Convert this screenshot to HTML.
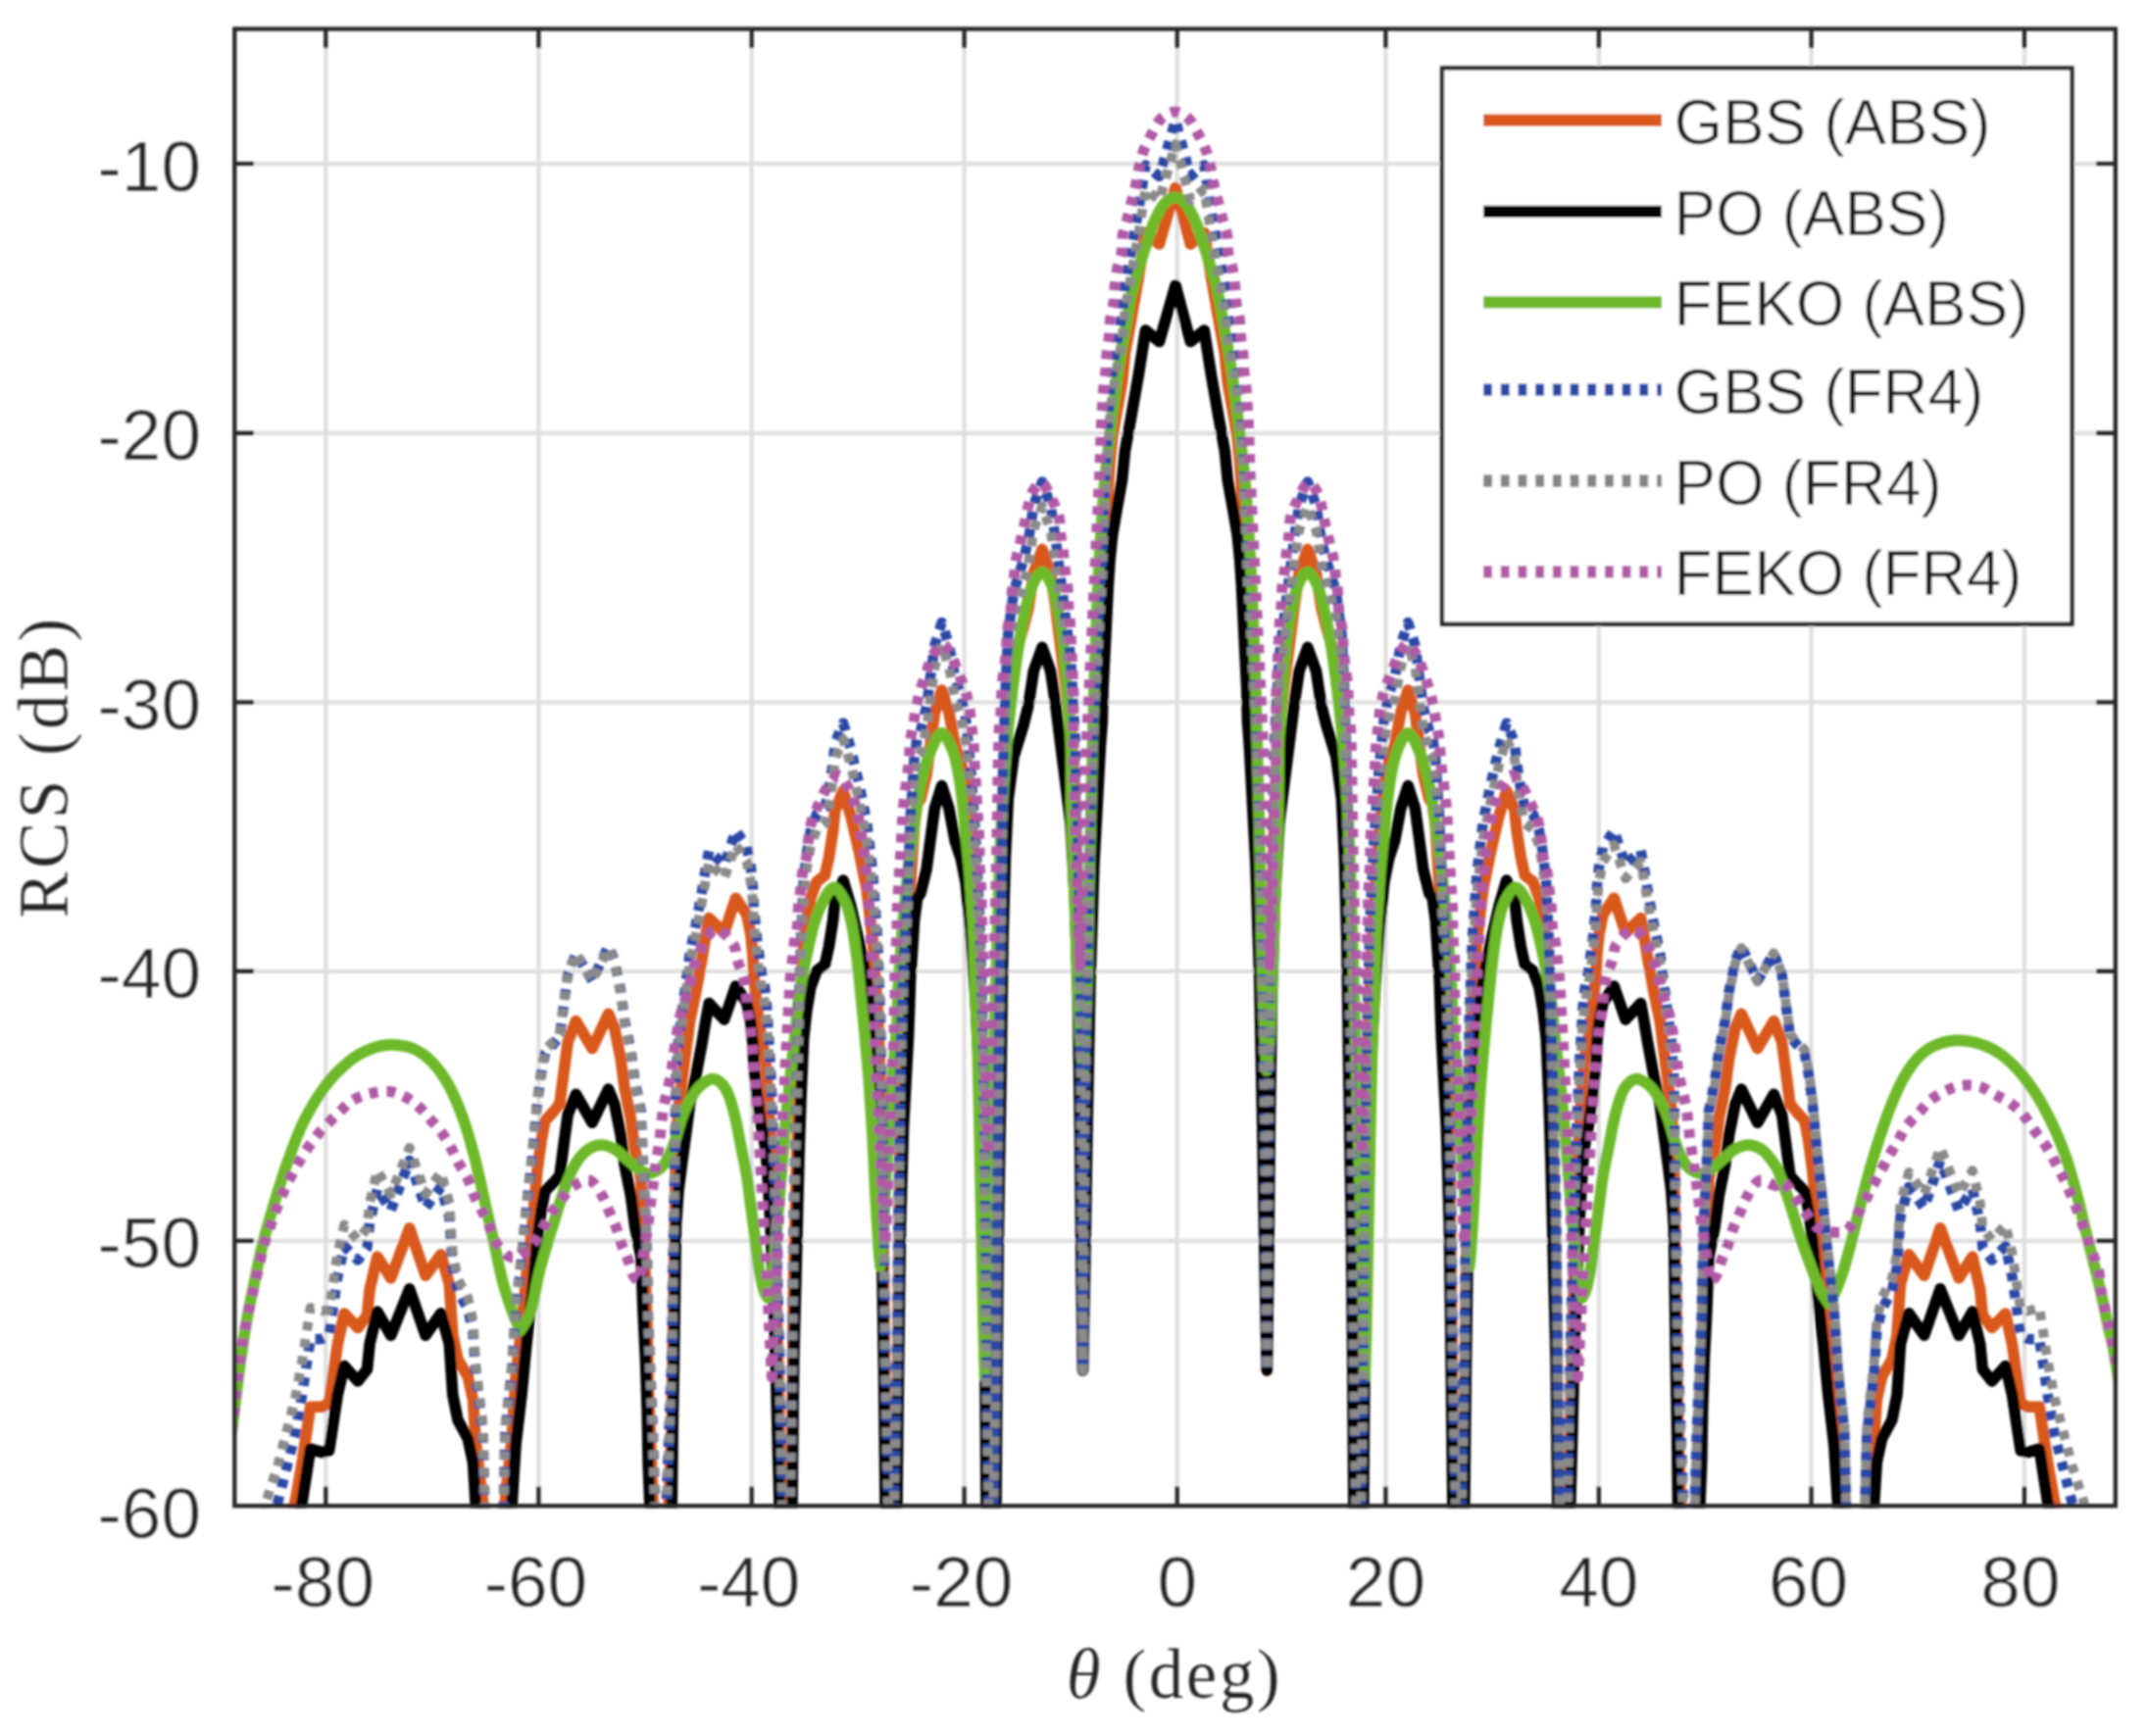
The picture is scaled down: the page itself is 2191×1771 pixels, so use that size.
<!DOCTYPE html>
<html><head><meta charset="utf-8"><title>RCS</title>
<style>html,body{margin:0;padding:0;background:#fff}svg{display:block}.t{font-family:"Liberation Sans",Arial,sans-serif;fill:#262626;stroke:#fff;stroke-width:0.5px}.s{font-family:"Liberation Serif","Times New Roman",serif;fill:#262626;stroke:#fff;stroke-width:0.2px}</style></head><body>
<svg width="2191" height="1771" viewBox="0 0 2191 1771">
<defs><clipPath id="cp"><rect x="237.2" y="27.4" width="1922.8" height="1511.0"/></clipPath><filter id="bl" x="-2%" y="-2%" width="104%" height="104%"><feGaussianBlur stdDeviation="1.0"/></filter></defs>
<rect width="2191" height="1771" fill="#fff"/>
<g filter="url(#bl)">
<g stroke="#dfdfdf" stroke-width="4.3"><line x1="332.3" y1="29.5" x2="332.3" y2="1536.2"/><line x1="549.4" y1="29.5" x2="549.4" y2="1536.2"/><line x1="766.7" y1="29.5" x2="766.7" y2="1536.2"/><line x1="983.6" y1="29.5" x2="983.6" y2="1536.2"/><line x1="1200.7" y1="29.5" x2="1200.7" y2="1536.2"/><line x1="1413.4" y1="29.5" x2="1413.4" y2="1536.2"/><line x1="1630.8" y1="29.5" x2="1630.8" y2="1536.2"/><line x1="1847.6" y1="29.5" x2="1847.6" y2="1536.2"/><line x1="2064.9" y1="29.5" x2="2064.9" y2="1536.2"/><line x1="239.3" y1="167.0" x2="2157.8" y2="167.0"/><line x1="239.3" y1="441.8" x2="2157.8" y2="441.8"/><line x1="239.3" y1="716.4" x2="2157.8" y2="716.4"/><line x1="239.3" y1="990.8" x2="2157.8" y2="990.8"/><line x1="239.3" y1="1265.8" x2="2157.8" y2="1265.8"/></g>
<g clip-path="url(#cp)" fill="none" stroke-linejoin="round" stroke-linecap="butt">
<path d="M255.0 1724.2 L262.0 1683.9 L271.0 1640.4 L283.0 1602.8 L301.0 1532.7 L308.0 1493.0 L313.1 1458.7 L316.6 1435.2 L328.7 1435.1 L335.6 1431.3 L339.1 1407.7 L344.3 1371.5 L351.2 1340.1 L365.0 1354.5 L374.5 1341.7 L377.1 1315.6 L384.9 1282.1 L398.7 1303.8 L417.7 1252.9 L434.1 1301.3 L449.7 1279.9 L458.3 1310.0 L461.8 1361.4 L467.0 1386.8 L477.3 1404.5 L482.5 1428.1 L485.1 1469.2 L492.5 1531.9 L494.6 1611.6 L497.0 1734.4 L503.7 1933.6 L511.0 1732.9 L513.6 1609.6 L515.4 1530.5 L522.3 1465.2 L526.0 1406.1 L532.0 1353.6 L537.0 1301.3 L543.0 1248.7 L548.0 1194.2 L552.2 1163.3 L556.0 1143.4 L565.0 1133.5 L570.9 1126.1 L575.0 1094.6 L579.2 1063.1 L587.5 1041.6 L604.1 1069.6 L620.6 1034.3 L626.9 1049.3 L633.1 1079.8 L637.2 1110.7 L643.5 1141.2 L647.6 1172.0 L653.8 1202.5 L655.9 1256.5 L658.5 1308.2 L660.2 1359.8 L661.1 1411.7 L662.8 1452.9 L666.0 1529.2 L668.0 1597.1 L671.0 1718.8 L673.5 1918.6 L676.0 1718.4 L680.0 1595.0 L682.5 1527.7 L685.3 1450.8 L686.2 1374.7 L687.5 1305.4 L688.5 1236.1 L689.5 1166.9 L692.0 1131.6 L695.3 1105.2 L699.5 1073.5 L703.6 1041.9 L709.8 1012.2 L716.0 978.3 L720.2 952.9 L723.2 936.6 L738.7 951.5 L750.5 916.2 L761.7 932.9 L765.8 953.5 L767.9 974.2 L768.9 995.0 L772.0 1026.1 L776.2 1057.1 L780.3 1077.8 L782.4 1098.6 L786.0 1159.6 L789.0 1229.6 L791.5 1309.6 L793.5 1389.5 L795.0 1442.5 L798.0 1589.5 L802.0 1909.4 L806.0 1589.4 L808.0 1442.8 L808.9 1366.8 L809.7 1297.7 L811.5 1228.4 L813.2 1159.3 L815.0 1089.3 L817.0 1029.3 L819.6 969.2 L822.7 941.0 L826.9 916.1 L833.1 899.4 L841.4 893.1 L845.5 874.5 L849.7 847.4 L851.8 826.7 L860.1 806.7 L868.0 833.2 L876.0 867.7 L884.0 907.2 L890.0 956.9 L895.0 1026.5 L898.0 1106.4 L900.0 1206.2 L901.5 1306.1 L903.0 1439.0 L906.0 1585.9 L909.0 1905.7 L912.0 1585.5 L915.0 1438.3 L916.5 1305.2 L918.5 1155.1 L921.5 1054.9 L926.4 964.6 L927.5 936.3 L928.5 905.1 L930.6 873.9 L932.6 842.7 L935.7 819.7 L938.9 815.3 L945.1 790.0 L949.2 758.6 L953.4 727.3 L960.6 704.0 L967.9 726.6 L974.1 759.7 L980.3 778.2 L985.0 801.8 L990.0 851.7 L995.0 921.6 L999.0 1001.5 L1002.0 1101.4 L1004.5 1251.4 L1006.0 1434.3 L1008.5 1581.3 L1011.0 1901.2 L1013.5 1581.2 L1016.0 1434.1 L1017.0 1301.1 L1018.5 1151.0 L1021.0 1001.0 L1023.0 859.9 L1025.5 773.9 L1028.3 715.8 L1034.0 672.7 L1043.9 640.4 L1049.1 619.5 L1054.3 584.8 L1063.0 560.4 L1071.6 584.6 L1076.8 619.3 L1081.9 660.1 L1087.0 700.1 L1092.0 740.1 L1096.5 820.1 L1099.5 920.1 L1101.5 1050.1 L1103.0 1200.1 L1104.5 1398.0 L1106.5 1200.2 L1109.0 1050.2 L1112.0 900.2 L1116.0 780.2 L1122.5 660.2 L1124.3 636.7 L1125.1 602.1 L1126.9 567.5 L1128.6 533.0 L1130.3 498.4 L1132.0 472.6 L1134.6 446.7 L1139.0 420.8 L1144.5 390.3 L1147.5 360.3 L1153.2 329.0 L1161.3 283.0 L1168.5 237.4 L1182.5 248.9 L1199.0 191.5 L1214.3 248.9 L1228.3 237.4 L1235.5 283.0 L1243.6 329.0 L1249.3 360.3 L1252.3 390.3 L1257.8 420.8 L1262.2 446.7 L1264.8 472.6 L1266.5 498.4 L1268.2 533.0 L1269.9 567.5 L1271.7 602.1 L1272.5 636.7 L1274.3 660.2 L1280.8 780.2 L1284.8 900.2 L1287.8 1050.2 L1290.3 1200.2 L1292.3 1398.0 L1293.8 1200.1 L1295.3 1050.1 L1297.3 920.1 L1300.3 820.1 L1304.8 740.1 L1309.8 700.1 L1314.9 660.1 L1320.0 619.3 L1325.2 584.6 L1333.8 560.4 L1342.5 584.8 L1347.7 619.5 L1352.9 640.4 L1362.8 672.7 L1368.5 715.8 L1371.3 773.9 L1373.8 859.9 L1375.8 1001.0 L1378.3 1151.0 L1379.8 1301.1 L1380.8 1434.1 L1383.3 1581.2 L1385.8 1901.2 L1388.3 1581.3 L1390.8 1434.3 L1392.3 1251.4 L1394.8 1101.4 L1397.8 1001.5 L1401.8 921.6 L1406.8 851.7 L1411.8 801.8 L1416.5 778.2 L1422.7 759.7 L1428.9 726.6 L1436.2 704.0 L1443.4 727.3 L1447.6 758.6 L1451.7 790.0 L1457.9 815.3 L1461.1 819.7 L1464.2 842.7 L1466.2 873.9 L1468.3 905.1 L1469.3 936.3 L1470.4 964.6 L1475.3 1054.9 L1478.3 1155.1 L1480.3 1305.2 L1481.8 1438.3 L1484.8 1585.5 L1487.8 1905.7 L1490.8 1585.9 L1493.8 1439.0 L1495.3 1306.1 L1496.8 1206.2 L1498.8 1106.4 L1501.8 1026.5 L1506.8 956.9 L1512.8 907.2 L1520.8 867.7 L1528.8 833.2 L1536.7 806.7 L1545.0 826.7 L1547.1 847.4 L1551.3 874.5 L1555.4 893.1 L1563.7 899.4 L1569.9 916.1 L1574.1 941.0 L1577.2 969.2 L1579.8 1029.3 L1581.8 1089.3 L1583.6 1159.3 L1585.3 1228.4 L1587.1 1297.7 L1587.9 1366.8 L1588.8 1442.8 L1590.8 1589.4 L1594.8 1909.4 L1598.8 1589.5 L1601.8 1442.5 L1603.3 1389.5 L1605.3 1309.6 L1607.8 1229.6 L1610.8 1159.6 L1614.4 1098.6 L1616.5 1077.8 L1620.6 1057.1 L1624.8 1026.1 L1627.9 995.0 L1628.9 974.2 L1631.0 953.5 L1635.1 932.9 L1646.3 916.2 L1658.1 951.5 L1673.6 936.6 L1676.6 952.9 L1680.8 978.3 L1687.0 1012.2 L1693.2 1041.9 L1697.3 1073.5 L1701.5 1105.2 L1704.8 1131.6 L1707.3 1166.9 L1708.3 1236.1 L1709.3 1305.4 L1710.6 1374.7 L1711.5 1450.8 L1714.3 1527.7 L1716.8 1595.0 L1720.8 1718.4 L1723.3 1918.6 L1725.8 1718.8 L1728.8 1597.1 L1730.8 1529.2 L1734.0 1452.9 L1735.7 1411.7 L1736.6 1359.8 L1738.3 1308.2 L1740.9 1256.5 L1743.0 1202.5 L1749.2 1172.0 L1753.3 1141.2 L1759.6 1110.7 L1763.7 1079.8 L1769.9 1049.3 L1776.2 1034.3 L1792.7 1069.6 L1809.3 1041.6 L1817.6 1063.1 L1821.8 1094.6 L1825.9 1126.1 L1831.8 1133.5 L1840.8 1143.4 L1844.6 1163.3 L1848.8 1194.2 L1853.8 1248.7 L1859.8 1301.3 L1864.8 1353.6 L1870.8 1406.1 L1874.5 1465.2 L1881.4 1530.5 L1883.2 1609.6 L1885.8 1732.9 L1893.1 1933.6 L1899.8 1734.4 L1902.2 1611.6 L1904.3 1531.9 L1911.7 1469.2 L1914.3 1428.1 L1919.5 1404.5 L1929.8 1386.8 L1935.0 1361.4 L1938.5 1310.0 L1947.1 1279.9 L1962.7 1301.3 L1979.1 1252.9 L1998.1 1303.8 L2011.9 1282.1 L2019.7 1315.6 L2022.3 1341.7 L2031.8 1354.5 L2045.6 1340.1 L2052.5 1371.5 L2057.7 1407.7 L2061.2 1431.3 L2068.1 1435.1 L2080.2 1435.2 L2083.7 1458.7 L2088.8 1493.0 L2095.8 1532.7 L2113.8 1602.8 L2125.8 1640.4 L2134.8 1683.9 L2141.8 1724.2" stroke="#d9581c" stroke-width="11.6"/>
<path d="M255.0 1760.0 L262.0 1720.0 L271.0 1677.0 L283.0 1640.0 L301.0 1571.0 L308.0 1533.4 L313.1 1500.6 L316.6 1478.1 L328.7 1481.6 L335.6 1479.9 L339.1 1457.4 L344.3 1422.8 L351.2 1393.5 L365.0 1409.0 L374.5 1396.9 L377.1 1371.0 L384.9 1338.1 L398.7 1362.3 L417.7 1314.8 L434.1 1362.3 L449.7 1339.9 L458.3 1371.0 L461.8 1422.8 L467.0 1448.8 L477.3 1467.8 L482.5 1492.0 L485.1 1533.4 L492.5 1597.0 L494.6 1677.0 L497.0 1800.0 L503.7 2000.0 L511.0 1800.0 L513.6 1677.0 L515.4 1598.0 L522.3 1533.4 L526.0 1474.7 L532.0 1422.8 L537.0 1371.0 L543.0 1319.0 L548.0 1265.0 L552.2 1234.5 L556.0 1215.0 L565.0 1206.0 L570.9 1199.2 L575.0 1168.1 L579.2 1137.0 L587.5 1116.3 L604.1 1145.3 L620.6 1111.1 L626.9 1126.6 L633.1 1157.7 L637.2 1188.9 L643.5 1220.0 L647.6 1251.1 L653.8 1282.2 L655.9 1336.4 L658.5 1388.3 L660.2 1440.1 L661.1 1492.0 L662.8 1533.4 L666.0 1610.0 L668.0 1678.0 L671.0 1800.0 L673.5 2000.0 L676.0 1800.0 L680.0 1677.0 L682.5 1610.0 L685.3 1533.4 L686.2 1457.4 L687.5 1388.3 L688.5 1319.1 L689.5 1250.0 L692.0 1215.0 L695.3 1188.9 L699.5 1157.7 L703.6 1126.6 L709.8 1097.6 L716.0 1064.4 L720.2 1039.5 L723.2 1023.5 L738.7 1040.1 L750.5 1006.0 L761.7 1023.0 L765.8 1043.7 L767.9 1064.4 L768.9 1085.2 L772.0 1116.3 L776.2 1147.4 L780.3 1168.1 L782.4 1188.9 L786.0 1250.0 L789.0 1320.0 L791.5 1400.0 L793.5 1480.0 L795.0 1533.0 L798.0 1680.0 L802.0 2000.0 L806.0 1680.0 L808.0 1533.4 L808.9 1457.4 L809.7 1388.3 L811.5 1319.1 L813.2 1250.0 L815.0 1180.0 L817.0 1120.0 L819.6 1060.0 L822.7 1031.8 L826.9 1006.9 L833.1 990.3 L841.4 984.1 L845.5 965.5 L849.7 938.5 L851.8 917.8 L860.1 898.0 L868.0 925.0 L876.0 960.0 L884.0 1000.0 L890.0 1050.0 L895.0 1120.0 L898.0 1200.0 L900.0 1300.0 L901.5 1400.0 L903.0 1533.0 L906.0 1680.0 L909.0 2000.0 L912.0 1680.0 L915.0 1533.0 L916.5 1400.0 L918.5 1250.0 L921.5 1150.0 L926.4 1060.0 L927.5 1031.8 L928.5 1000.7 L930.6 969.6 L932.6 938.5 L935.7 915.7 L938.9 911.5 L945.1 886.6 L949.2 855.5 L953.4 824.4 L960.6 801.6 L967.9 824.4 L974.1 857.6 L980.3 876.3 L985.0 900.0 L990.0 950.0 L995.0 1020.0 L999.0 1100.0 L1002.0 1200.0 L1004.5 1350.0 L1006.0 1533.0 L1008.5 1680.0 L1011.0 2000.0 L1013.5 1680.0 L1016.0 1533.0 L1017.0 1400.0 L1018.5 1250.0 L1021.0 1100.0 L1023.0 959.0 L1025.5 873.0 L1028.3 815.0 L1034.0 772.0 L1043.9 740.0 L1049.1 719.2 L1054.3 684.6 L1063.0 660.4 L1071.6 684.6 L1076.8 719.2 L1081.9 760.0 L1087.0 800.0 L1092.0 840.0 L1096.5 920.0 L1099.5 1020.0 L1101.5 1150.0 L1103.0 1300.0 L1104.5 1398.0 L1106.5 1300.0 L1109.0 1150.0 L1112.0 1000.0 L1116.0 880.0 L1122.5 760.0 L1124.3 736.5 L1125.1 701.9 L1126.9 667.3 L1128.6 632.8 L1130.3 598.2 L1132.0 572.3 L1134.6 546.4 L1139.0 520.5 L1144.5 490.0 L1147.5 460.0 L1153.2 428.7 L1161.3 382.6 L1168.5 337.0 L1182.5 348.5 L1199.0 291.0 L1214.3 348.5 L1228.3 337.0 L1235.5 382.6 L1243.6 428.7 L1249.3 460.0 L1252.3 490.0 L1257.8 520.5 L1262.2 546.4 L1264.8 572.3 L1266.5 598.2 L1268.2 632.8 L1269.9 667.3 L1271.7 701.9 L1272.5 736.5 L1274.3 760.0 L1280.8 880.0 L1284.8 1000.0 L1287.8 1150.0 L1290.3 1300.0 L1292.3 1398.0 L1293.8 1300.0 L1295.3 1150.0 L1297.3 1020.0 L1300.3 920.0 L1304.8 840.0 L1309.8 800.0 L1314.9 760.0 L1320.0 719.2 L1325.2 684.6 L1333.8 660.4 L1342.5 684.6 L1347.7 719.2 L1352.9 740.0 L1362.8 772.0 L1368.5 815.0 L1371.3 873.0 L1373.8 959.0 L1375.8 1100.0 L1378.3 1250.0 L1379.8 1400.0 L1380.8 1533.0 L1383.3 1680.0 L1385.8 2000.0 L1388.3 1680.0 L1390.8 1533.0 L1392.3 1350.0 L1394.8 1200.0 L1397.8 1100.0 L1401.8 1020.0 L1406.8 950.0 L1411.8 900.0 L1416.5 876.3 L1422.7 857.6 L1428.9 824.4 L1436.2 801.6 L1443.4 824.4 L1447.6 855.5 L1451.7 886.6 L1457.9 911.5 L1461.1 915.7 L1464.2 938.5 L1466.2 969.6 L1468.3 1000.7 L1469.3 1031.8 L1470.4 1060.0 L1475.3 1150.0 L1478.3 1250.0 L1480.3 1400.0 L1481.8 1533.0 L1484.8 1680.0 L1487.8 2000.0 L1490.8 1680.0 L1493.8 1533.0 L1495.3 1400.0 L1496.8 1300.0 L1498.8 1200.0 L1501.8 1120.0 L1506.8 1050.0 L1512.8 1000.0 L1520.8 960.0 L1528.8 925.0 L1536.7 898.0 L1545.0 917.8 L1547.1 938.5 L1551.3 965.5 L1555.4 984.1 L1563.7 990.3 L1569.9 1006.9 L1574.1 1031.8 L1577.2 1060.0 L1579.8 1120.0 L1581.8 1180.0 L1583.6 1250.0 L1585.3 1319.1 L1587.1 1388.3 L1587.9 1457.4 L1588.8 1533.4 L1590.8 1680.0 L1594.8 2000.0 L1598.8 1680.0 L1601.8 1533.0 L1603.3 1480.0 L1605.3 1400.0 L1607.8 1320.0 L1610.8 1250.0 L1614.4 1188.9 L1616.5 1168.1 L1620.6 1147.4 L1624.8 1116.3 L1627.9 1085.2 L1628.9 1064.4 L1631.0 1043.7 L1635.1 1023.0 L1646.3 1006.0 L1658.1 1040.1 L1673.6 1023.5 L1676.6 1039.5 L1680.8 1064.4 L1687.0 1097.6 L1693.2 1126.6 L1697.3 1157.7 L1701.5 1188.9 L1704.8 1215.0 L1707.3 1250.0 L1708.3 1319.1 L1709.3 1388.3 L1710.6 1457.4 L1711.5 1533.4 L1714.3 1610.0 L1716.8 1677.0 L1720.8 1800.0 L1723.3 2000.0 L1725.8 1800.0 L1728.8 1678.0 L1730.8 1610.0 L1734.0 1533.4 L1735.7 1492.0 L1736.6 1440.1 L1738.3 1388.3 L1740.9 1336.4 L1743.0 1282.2 L1749.2 1251.1 L1753.3 1220.0 L1759.6 1188.9 L1763.7 1157.7 L1769.9 1126.6 L1776.2 1111.1 L1792.7 1145.3 L1809.3 1116.3 L1817.6 1137.0 L1821.8 1168.1 L1825.9 1199.2 L1831.8 1206.0 L1840.8 1215.0 L1844.6 1234.5 L1848.8 1265.0 L1853.8 1319.0 L1859.8 1371.0 L1864.8 1422.8 L1870.8 1474.7 L1874.5 1533.4 L1881.4 1598.0 L1883.2 1677.0 L1885.8 1800.0 L1893.1 2000.0 L1899.8 1800.0 L1902.2 1677.0 L1904.3 1597.0 L1911.7 1533.4 L1914.3 1492.0 L1919.5 1467.8 L1929.8 1448.8 L1935.0 1422.8 L1938.5 1371.0 L1947.1 1339.9 L1962.7 1362.3 L1979.1 1314.8 L1998.1 1362.3 L2011.9 1338.1 L2019.7 1371.0 L2022.3 1396.9 L2031.8 1409.0 L2045.6 1393.5 L2052.5 1422.8 L2057.7 1457.4 L2061.2 1479.9 L2068.1 1481.6 L2080.2 1478.1 L2083.7 1500.6 L2088.8 1533.4 L2095.8 1571.0 L2113.8 1640.0 L2125.8 1677.0 L2134.8 1720.0 L2141.8 1760.0" stroke="#050505" stroke-width="11.6"/>
<path d="M236.0 1462.0 C236.5 1458.3 237.3 1451.8 238.8 1440.1 C240.3 1428.4 242.8 1407.0 244.9 1391.7 C247.0 1376.4 249.1 1362.0 251.5 1348.0 C253.9 1334.0 256.8 1321.2 259.5 1308.0 C262.2 1294.8 264.6 1282.6 268.0 1269.0 C271.4 1255.4 275.8 1240.6 280.0 1226.6 C284.2 1212.6 288.4 1199.0 293.4 1185.2 C298.4 1171.4 303.4 1156.8 310.0 1143.7 C316.6 1130.6 324.9 1116.8 332.8 1106.4 C340.8 1096.0 350.1 1087.6 357.7 1081.5 C365.3 1075.4 371.6 1072.6 378.5 1070.0 C385.4 1067.4 391.9 1065.9 399.2 1065.9 C406.4 1065.9 415.1 1067.1 422.0 1070.0 C428.9 1072.9 434.8 1077.4 440.7 1083.5 C446.6 1089.6 452.1 1097.1 457.3 1106.4 C462.5 1115.7 467.3 1127.1 471.8 1139.5 C476.3 1151.9 480.4 1166.5 484.2 1181.0 C488.0 1195.5 491.3 1212.1 494.6 1226.6 C497.9 1241.1 500.9 1254.2 504.0 1268.0 C507.1 1281.8 510.0 1297.5 513.3 1309.6 C516.6 1321.7 520.7 1332.8 523.6 1340.7 C526.5 1348.6 529.7 1354.5 530.9 1357.2 C532.7 1353.8 538.3 1346.9 541.5 1337.0 C544.7 1327.1 547.2 1309.5 550.0 1298.0 C552.8 1286.5 555.8 1277.3 558.5 1268.0 C561.2 1258.7 563.8 1250.8 566.5 1242.0 C569.2 1233.2 571.9 1223.7 575.0 1215.0 C578.1 1206.3 581.6 1196.8 585.4 1190.0 C589.2 1183.2 593.3 1178.0 597.8 1174.3 C602.3 1170.6 607.5 1168.4 612.4 1168.1 C617.2 1167.8 622.4 1169.9 626.9 1172.3 C631.4 1174.7 635.1 1179.1 639.3 1182.6 C643.4 1186.0 648.0 1190.6 651.8 1193.0 C655.6 1195.4 658.0 1197.9 662.1 1197.2 C666.2 1196.5 672.5 1193.8 676.6 1188.9 C680.8 1184.1 683.9 1176.0 687.0 1168.1 C690.1 1160.1 692.5 1148.8 695.3 1141.2 C698.1 1133.6 700.5 1128.0 703.6 1122.5 C706.7 1117.0 709.9 1111.6 714.0 1108.0 C718.1 1104.4 724.0 1100.0 728.5 1100.7 C733.0 1101.4 737.4 1106.0 740.9 1112.1 C744.4 1118.1 746.8 1127.7 749.2 1137.0 C751.6 1146.3 753.4 1157.7 755.5 1168.1 C757.6 1178.5 760.0 1188.8 761.7 1199.2 C763.4 1209.6 764.4 1219.9 765.8 1230.3 C767.2 1240.7 768.6 1251.0 770.0 1261.4 C771.4 1271.8 772.6 1283.5 774.1 1292.6 C775.6 1301.7 777.5 1310.8 779.0 1316.0 C780.5 1321.2 782.3 1322.7 783.0 1324.0 C783.8 1320.0 785.8 1319.0 788.0 1300.0 C790.2 1281.0 793.5 1238.7 796.0 1210.0 C798.5 1181.3 800.5 1154.2 803.0 1128.0 C805.5 1101.8 809.4 1070.4 811.3 1052.6 C813.2 1034.8 813.0 1031.8 814.4 1021.4 C815.8 1011.0 817.9 999.6 819.6 990.3 C821.3 981.0 822.9 973.8 824.8 965.5 C826.7 957.2 828.6 948.2 831.0 940.6 C833.4 933.0 836.0 925.7 839.3 919.8 C842.6 913.9 846.9 905.3 850.7 905.3 C854.5 905.3 859.2 913.9 862.1 919.8 C865.0 925.7 866.6 933.0 868.3 940.6 C870.0 948.2 871.3 957.2 872.5 965.5 C873.7 973.8 874.6 981.0 875.6 990.3 C876.6 999.6 877.7 1011.0 878.7 1021.4 C879.7 1031.8 880.6 1039.5 881.8 1052.6 C883.0 1065.7 884.6 1082.1 886.0 1100.0 C887.4 1117.9 888.8 1140.0 890.0 1160.0 C891.2 1180.0 892.0 1201.7 893.0 1220.0 C894.0 1238.3 895.2 1258.0 896.0 1270.0 C896.8 1282.0 897.7 1288.3 898.0 1292.0 C898.5 1285.0 900.0 1265.3 901.0 1250.0 C902.0 1234.7 902.8 1220.0 904.0 1200.0 C905.2 1180.0 906.7 1150.0 908.0 1130.0 C909.3 1110.0 910.8 1094.2 912.0 1080.0 C913.2 1065.8 914.3 1056.5 915.0 1045.0 C915.7 1033.5 915.5 1021.9 916.0 1011.1 C916.5 1000.3 917.4 990.4 918.1 980.0 C918.8 969.6 919.3 959.3 920.2 948.9 C921.1 938.5 922.3 928.2 923.3 917.8 C924.3 907.4 925.2 897.0 926.4 886.6 C927.6 876.2 929.2 865.9 930.6 855.5 C932.0 845.1 933.0 834.8 934.7 824.4 C936.4 814.0 938.5 803.0 940.9 793.3 C943.3 783.6 945.9 774.0 949.2 766.4 C952.5 758.8 956.8 747.7 960.6 747.7 C964.4 747.7 969.0 758.8 972.0 766.4 C975.0 774.0 976.6 783.6 978.3 793.3 C980.0 803.0 981.2 814.0 982.4 824.4 C983.6 834.8 984.5 845.1 985.5 855.5 C986.5 865.9 987.7 876.2 988.6 886.6 C989.5 897.0 990.0 907.4 990.7 917.8 C991.4 928.2 992.3 938.5 992.8 948.9 C993.3 959.3 993.5 969.6 993.8 980.0 C994.1 990.4 994.3 997.8 994.8 1011.1 C995.3 1024.4 996.2 1036.8 996.9 1060.0 C997.6 1083.2 998.3 1118.3 999.0 1150.0 C999.7 1181.7 1000.3 1216.7 1001.0 1250.0 C1001.7 1283.3 1002.4 1324.2 1003.0 1350.0 C1003.6 1375.8 1004.2 1395.8 1004.5 1405.0 C1004.9 1387.5 1006.1 1334.2 1007.0 1300.0 C1007.9 1265.8 1009.0 1233.3 1010.0 1200.0 C1011.0 1166.7 1012.0 1133.3 1013.0 1100.0 C1014.0 1066.7 1015.0 1033.3 1016.0 1000.0 C1017.0 966.7 1018.0 928.3 1019.0 900.0 C1020.0 871.7 1020.7 853.3 1022.0 830.0 C1023.3 806.7 1025.2 778.5 1026.7 760.0 C1028.2 741.5 1029.6 731.8 1031.0 719.2 C1032.4 706.6 1033.7 696.1 1035.3 684.6 C1036.9 673.1 1038.8 660.2 1040.5 650.1 C1042.2 640.0 1043.7 632.8 1045.7 624.1 C1047.7 615.5 1049.7 605.0 1052.6 598.2 C1055.5 591.4 1059.5 583.5 1063.0 583.5 C1066.5 583.5 1070.6 591.4 1073.3 598.2 C1076.0 605.0 1077.7 615.5 1079.4 624.1 C1081.1 632.8 1082.4 640.0 1083.7 650.1 C1085.0 660.2 1086.1 673.1 1087.1 684.6 C1088.1 696.1 1088.8 706.6 1089.7 719.2 C1090.6 731.8 1091.8 741.5 1092.3 760.0 C1092.8 778.5 1092.5 806.7 1093.0 830.0 C1093.5 853.3 1094.6 875.0 1095.5 900.0 C1096.4 925.0 1097.4 953.3 1098.5 980.0 C1099.6 1006.7 1100.9 1041.3 1102.0 1060.0 C1103.1 1078.7 1104.5 1086.7 1105.0 1092.0 C1105.7 1076.7 1108.0 1032.0 1109.0 1000.0 C1110.0 968.0 1110.2 933.3 1111.0 900.0 C1111.8 866.7 1112.7 833.3 1113.5 800.0 C1114.3 766.7 1115.1 730.0 1116.0 700.0 C1116.9 670.0 1118.0 643.3 1119.0 620.0 C1120.0 596.7 1120.8 580.0 1122.0 560.0 C1123.2 540.0 1124.7 516.3 1126.0 500.0 C1127.3 483.7 1128.8 473.1 1130.0 462.0 C1131.2 450.9 1132.3 442.7 1133.5 433.3 C1134.7 423.9 1135.8 414.8 1137.0 405.6 C1138.2 396.4 1139.3 387.2 1140.7 378.0 C1142.1 368.8 1143.7 359.1 1145.2 350.3 C1146.7 341.5 1148.3 333.4 1149.8 325.0 C1151.3 316.6 1152.5 308.1 1154.4 299.6 C1156.3 291.2 1158.8 282.8 1161.3 274.3 C1163.8 265.9 1166.7 257.0 1169.4 248.9 C1172.1 240.8 1174.3 232.8 1177.4 225.9 C1180.5 219.0 1184.2 211.6 1187.8 207.5 C1191.4 203.4 1195.5 201.2 1199.0 201.2 C1202.5 201.2 1205.6 203.4 1209.0 207.5 C1212.4 211.6 1216.3 219.0 1219.4 225.9 C1222.5 232.8 1224.7 240.8 1227.4 248.9 C1230.1 257.0 1233.0 265.9 1235.5 274.3 C1238.0 282.8 1240.5 291.2 1242.4 299.6 C1244.3 308.1 1245.5 316.6 1247.0 325.0 C1248.5 333.4 1250.1 341.5 1251.6 350.3 C1253.1 359.1 1254.7 368.8 1256.1 378.0 C1257.5 387.2 1258.6 396.4 1259.8 405.6 C1261.0 414.8 1262.1 423.9 1263.3 433.3 C1264.5 442.7 1265.6 450.9 1266.8 462.0 C1268.1 473.1 1269.5 483.7 1270.8 500.0 C1272.1 516.3 1273.6 540.0 1274.8 560.0 C1276.0 580.0 1276.8 596.7 1277.8 620.0 C1278.8 643.3 1279.9 670.0 1280.8 700.0 C1281.7 730.0 1282.5 766.7 1283.3 800.0 C1284.1 833.3 1285.1 866.7 1285.8 900.0 C1286.6 933.3 1286.8 968.0 1287.8 1000.0 C1288.8 1032.0 1291.1 1076.7 1291.8 1092.0 C1292.3 1086.7 1293.7 1078.7 1294.8 1060.0 C1295.9 1041.3 1297.2 1006.7 1298.3 980.0 C1299.4 953.3 1300.4 925.0 1301.3 900.0 C1302.2 875.0 1303.3 853.3 1303.8 830.0 C1304.3 806.7 1304.0 778.5 1304.5 760.0 C1305.1 741.5 1306.2 731.8 1307.1 719.2 C1308.0 706.6 1308.7 696.1 1309.7 684.6 C1310.7 673.1 1311.8 660.2 1313.1 650.1 C1314.4 640.0 1315.7 632.8 1317.4 624.1 C1319.1 615.5 1320.8 605.0 1323.5 598.2 C1326.2 591.4 1330.4 583.5 1333.8 583.5 C1337.3 583.5 1341.3 591.4 1344.2 598.2 C1347.1 605.0 1349.1 615.5 1351.1 624.1 C1353.1 632.8 1354.6 640.0 1356.3 650.1 C1358.0 660.2 1359.9 673.1 1361.5 684.6 C1363.1 696.1 1364.4 706.6 1365.8 719.2 C1367.2 731.8 1368.6 741.5 1370.1 760.0 C1371.6 778.5 1373.5 806.7 1374.8 830.0 C1376.1 853.3 1376.8 871.7 1377.8 900.0 C1378.8 928.3 1379.8 966.7 1380.8 1000.0 C1381.8 1033.3 1382.8 1066.7 1383.8 1100.0 C1384.8 1133.3 1385.8 1166.7 1386.8 1200.0 C1387.8 1233.3 1388.9 1265.8 1389.8 1300.0 C1390.7 1334.2 1391.9 1387.5 1392.3 1405.0 C1392.6 1395.8 1393.2 1375.8 1393.8 1350.0 C1394.4 1324.2 1395.1 1283.3 1395.8 1250.0 C1396.5 1216.7 1397.1 1181.7 1397.8 1150.0 C1398.5 1118.3 1399.2 1083.2 1399.9 1060.0 C1400.6 1036.8 1401.5 1024.4 1402.0 1011.1 C1402.5 997.8 1402.7 990.4 1403.0 980.0 C1403.3 969.6 1403.5 959.3 1404.0 948.9 C1404.5 938.5 1405.4 928.2 1406.1 917.8 C1406.8 907.4 1407.3 897.0 1408.2 886.6 C1409.1 876.2 1410.3 865.9 1411.3 855.5 C1412.3 845.1 1413.2 834.8 1414.4 824.4 C1415.6 814.0 1416.8 803.0 1418.5 793.3 C1420.2 783.6 1421.9 774.0 1424.8 766.4 C1427.8 758.8 1432.4 747.7 1436.2 747.7 C1440.0 747.7 1444.3 758.8 1447.6 766.4 C1450.9 774.0 1453.5 783.6 1455.9 793.3 C1458.3 803.0 1460.4 814.0 1462.1 824.4 C1463.8 834.8 1464.8 845.1 1466.2 855.5 C1467.6 865.9 1469.2 876.2 1470.4 886.6 C1471.6 897.0 1472.5 907.4 1473.5 917.8 C1474.5 928.2 1475.7 938.5 1476.6 948.9 C1477.5 959.3 1478.0 969.6 1478.7 980.0 C1479.4 990.4 1480.3 1000.3 1480.8 1011.1 C1481.3 1021.9 1481.1 1033.5 1481.8 1045.0 C1482.5 1056.5 1483.6 1065.8 1484.8 1080.0 C1486.0 1094.2 1487.5 1110.0 1488.8 1130.0 C1490.1 1150.0 1491.6 1180.0 1492.8 1200.0 C1494.0 1220.0 1494.8 1234.7 1495.8 1250.0 C1496.8 1265.3 1498.3 1285.0 1498.8 1292.0 C1499.1 1288.3 1500.0 1282.0 1500.8 1270.0 C1501.6 1258.0 1502.8 1238.3 1503.8 1220.0 C1504.8 1201.7 1505.6 1180.0 1506.8 1160.0 C1508.0 1140.0 1509.4 1117.9 1510.8 1100.0 C1512.2 1082.1 1513.8 1065.7 1515.0 1052.6 C1516.2 1039.5 1517.1 1031.8 1518.1 1021.4 C1519.1 1011.0 1520.2 999.6 1521.2 990.3 C1522.2 981.0 1523.1 973.8 1524.3 965.5 C1525.5 957.2 1526.8 948.2 1528.5 940.6 C1530.2 933.0 1531.8 925.7 1534.7 919.8 C1537.6 913.9 1542.3 905.3 1546.1 905.3 C1549.9 905.3 1554.2 913.9 1557.5 919.8 C1560.8 925.7 1563.4 933.0 1565.8 940.6 C1568.2 948.2 1570.1 957.2 1572.0 965.5 C1573.9 973.8 1575.5 981.0 1577.2 990.3 C1578.9 999.6 1581.0 1011.0 1582.4 1021.4 C1583.8 1031.8 1583.6 1034.8 1585.5 1052.6 C1587.4 1070.4 1591.3 1101.8 1593.8 1128.0 C1596.4 1154.2 1598.3 1181.3 1600.8 1210.0 C1603.3 1238.7 1606.6 1281.0 1608.8 1300.0 C1611.0 1319.0 1613.0 1320.0 1613.8 1324.0 C1614.5 1322.7 1616.3 1321.2 1617.8 1316.0 C1619.3 1310.8 1621.2 1301.7 1622.7 1292.6 C1624.2 1283.5 1625.4 1271.8 1626.8 1261.4 C1628.2 1251.0 1629.6 1240.7 1631.0 1230.3 C1632.4 1219.9 1633.4 1209.6 1635.1 1199.2 C1636.8 1188.8 1639.2 1178.5 1641.3 1168.1 C1643.4 1157.7 1645.2 1146.3 1647.6 1137.0 C1650.0 1127.7 1652.5 1118.1 1655.9 1112.1 C1659.4 1106.0 1663.8 1101.4 1668.3 1100.7 C1672.8 1100.0 1678.7 1104.4 1682.8 1108.0 C1687.0 1111.6 1690.1 1117.0 1693.2 1122.5 C1696.3 1128.0 1698.7 1133.6 1701.5 1141.2 C1704.3 1148.8 1706.7 1160.1 1709.8 1168.1 C1712.9 1176.0 1716.1 1184.1 1720.2 1188.9 C1724.4 1193.8 1730.6 1196.5 1734.7 1197.2 C1738.8 1197.9 1741.2 1195.4 1745.0 1193.0 C1748.8 1190.6 1753.4 1186.0 1757.5 1182.6 C1761.7 1179.1 1765.4 1174.7 1769.9 1172.3 C1774.4 1169.9 1779.6 1167.8 1784.4 1168.1 C1789.2 1168.4 1794.5 1170.6 1799.0 1174.3 C1803.5 1178.0 1808.7 1186.1 1811.4 1190.0 C1814.1 1193.9 1812.7 1191.5 1815.0 1197.6 C1817.3 1203.7 1822.0 1216.2 1825.4 1226.6 C1828.9 1237.0 1832.2 1249.4 1835.7 1259.8 C1839.2 1270.2 1842.6 1279.6 1846.1 1288.9 C1849.6 1298.2 1853.3 1309.0 1856.5 1315.8 C1859.7 1322.6 1864.0 1327.6 1865.5 1330.0 C1866.8 1327.7 1870.6 1321.5 1873.0 1316.0 C1875.4 1310.5 1877.7 1304.3 1880.0 1297.0 C1882.3 1289.7 1885.0 1279.2 1887.0 1272.0 C1889.0 1264.8 1889.5 1262.2 1891.7 1253.6 C1893.9 1245.0 1897.2 1231.1 1900.0 1220.4 C1902.8 1209.7 1905.2 1200.0 1908.3 1189.3 C1911.4 1178.6 1915.2 1166.5 1918.7 1156.1 C1922.2 1145.7 1925.3 1136.4 1929.1 1127.1 C1932.9 1117.8 1937.0 1108.0 1941.5 1100.1 C1946.0 1092.1 1950.8 1084.9 1956.0 1079.4 C1961.2 1073.9 1966.0 1070.0 1972.6 1067.0 C1979.2 1064.0 1987.1 1061.6 1995.4 1061.4 C2003.7 1061.2 2014.5 1063.2 2022.4 1065.9 C2030.4 1068.6 2036.2 1071.9 2043.1 1077.3 C2050.0 1082.7 2057.0 1089.4 2063.9 1098.1 C2070.8 1106.8 2077.7 1116.4 2084.6 1129.2 C2091.5 1142.0 2099.5 1159.2 2105.3 1174.8 C2111.1 1190.3 2116.0 1209.7 2119.5 1222.5 C2123.0 1235.3 2124.3 1242.8 2126.5 1251.7 C2128.7 1260.6 2130.4 1267.6 2132.5 1275.9 C2134.6 1284.2 2136.9 1293.2 2139.0 1301.8 C2141.1 1310.4 2143.1 1319.1 2145.0 1327.8 C2146.9 1336.5 2148.9 1346.5 2150.5 1353.7 C2152.1 1360.9 2153.5 1365.0 2154.8 1371.0 C2156.1 1377.0 2156.9 1383.2 2158.1 1390.0 C2159.3 1396.8 2161.3 1408.3 2162.0 1412.0" stroke="#6db92c" stroke-width="11.6"/>
<path d="M255.0 1655.2 L262.0 1614.9 L271.0 1571.4 L283.0 1533.8 L301.0 1463.7 L308.0 1424.0 L313.1 1389.7 L316.6 1366.2 L328.7 1366.1 L335.6 1362.3 L339.1 1338.7 L344.3 1302.5 L351.2 1271.1 L365.0 1285.5 L374.5 1272.7 L377.1 1246.6 L384.9 1213.1 L398.7 1234.8 L417.7 1183.9 L434.1 1232.3 L449.7 1210.9 L458.3 1241.0 L461.8 1292.4 L467.0 1317.8 L477.3 1335.5 L482.5 1359.1 L485.1 1400.2 L492.5 1462.9 L494.6 1542.6 L497.0 1665.4 L503.7 1864.6 L511.0 1663.9 L513.6 1540.6 L515.4 1461.5 L522.3 1396.2 L526.0 1337.1 L532.0 1284.6 L537.0 1232.3 L543.0 1179.7 L548.0 1125.2 L552.2 1094.3 L556.0 1074.4 L565.0 1064.5 L570.9 1057.1 L575.0 1025.6 L579.2 994.1 L587.5 972.6 L604.1 1000.6 L620.6 965.3 L626.9 980.3 L633.1 1010.8 L637.2 1041.7 L643.5 1072.2 L647.6 1103.0 L653.8 1133.5 L655.9 1187.5 L658.5 1239.2 L660.2 1290.8 L661.1 1342.7 L662.8 1383.9 L666.0 1460.2 L668.0 1528.1 L671.0 1649.8 L673.5 1849.6 L676.0 1649.4 L680.0 1526.0 L682.5 1458.7 L685.3 1381.8 L686.2 1305.7 L687.5 1236.4 L688.5 1167.1 L689.5 1097.9 L692.0 1062.6 L695.3 1036.2 L699.5 1004.5 L703.6 972.9 L709.8 943.2 L716.0 909.3 L720.2 883.9 L723.2 867.6 L738.7 882.5 L750.5 847.2 L761.7 863.9 L765.8 884.5 L767.9 905.2 L768.9 926.0 L772.0 957.1 L776.2 988.1 L780.3 1008.8 L782.4 1029.6 L786.0 1090.6 L789.0 1160.6 L791.5 1240.6 L793.5 1320.5 L795.0 1373.5 L798.0 1520.5 L802.0 1840.4 L806.0 1520.4 L808.0 1373.8 L808.9 1297.8 L809.7 1228.7 L811.5 1159.4 L813.2 1090.3 L815.0 1020.3 L817.0 960.3 L819.6 900.2 L822.7 872.0 L826.9 847.1 L833.1 830.4 L841.4 824.1 L845.5 805.5 L849.7 778.4 L851.8 757.7 L860.1 737.7 L868.0 764.2 L876.0 798.7 L884.0 838.2 L890.0 887.9 L895.0 957.5 L898.0 1037.4 L900.0 1137.2 L901.5 1237.1 L903.0 1370.0 L906.0 1516.9 L909.0 1836.7 L912.0 1516.5 L915.0 1369.3 L916.5 1236.2 L918.5 1086.1 L921.5 985.9 L926.4 895.6 L927.5 867.3 L928.5 836.1 L930.6 804.9 L932.6 773.7 L935.7 750.7 L938.9 746.3 L945.1 721.0 L949.2 689.6 L953.4 658.3 L960.6 635.0 L967.9 657.6 L974.1 690.7 L980.3 709.2 L985.0 732.8 L990.0 782.7 L995.0 852.6 L999.0 932.5 L1002.0 1032.4 L1004.5 1182.4 L1006.0 1365.3 L1008.5 1512.3 L1011.0 1832.2 L1013.5 1512.2 L1016.0 1365.1 L1017.0 1232.1 L1018.5 1082.0 L1021.0 932.0 L1023.0 790.9 L1025.5 704.9 L1028.3 646.8 L1034.0 603.7 L1043.9 571.4 L1049.1 550.5 L1054.3 515.8 L1063.0 491.4 L1071.6 515.6 L1076.8 550.3 L1081.9 591.1 L1087.0 631.1 L1092.0 671.1 L1096.5 751.1 L1099.5 851.1 L1101.5 981.1 L1103.0 1131.1 L1104.5 1398.0 L1106.5 1131.2 L1109.0 981.2 L1112.0 831.2 L1116.0 711.2 L1122.5 591.2 L1124.3 567.7 L1125.1 533.1 L1126.9 498.5 L1128.6 464.0 L1130.3 429.4 L1132.0 403.6 L1134.6 377.7 L1139.0 351.8 L1144.5 321.3 L1147.5 291.3 L1153.2 260.0 L1161.3 214.0 L1168.5 168.4 L1182.5 179.9 L1199.0 122.5 L1214.3 179.9 L1228.3 168.4 L1235.5 214.0 L1243.6 260.0 L1249.3 291.3 L1252.3 321.3 L1257.8 351.8 L1262.2 377.7 L1264.8 403.6 L1266.5 429.4 L1268.2 464.0 L1269.9 498.5 L1271.7 533.1 L1272.5 567.7 L1274.3 591.2 L1280.8 711.2 L1284.8 831.2 L1287.8 981.2 L1290.3 1131.2 L1292.3 1398.0 L1293.8 1131.1 L1295.3 981.1 L1297.3 851.1 L1300.3 751.1 L1304.8 671.1 L1309.8 631.1 L1314.9 591.1 L1320.0 550.3 L1325.2 515.6 L1333.8 491.4 L1342.5 515.8 L1347.7 550.5 L1352.9 571.4 L1362.8 603.7 L1368.5 646.8 L1371.3 704.9 L1373.8 790.9 L1375.8 932.0 L1378.3 1082.0 L1379.8 1232.1 L1380.8 1365.1 L1383.3 1512.2 L1385.8 1832.2 L1388.3 1512.3 L1390.8 1365.3 L1392.3 1182.4 L1394.8 1032.4 L1397.8 932.5 L1401.8 852.6 L1406.8 782.7 L1411.8 732.8 L1416.5 709.2 L1422.7 690.7 L1428.9 657.6 L1436.2 635.0 L1443.4 658.3 L1447.6 689.6 L1451.7 721.0 L1457.9 746.3 L1461.1 750.7 L1464.2 773.7 L1466.2 804.9 L1468.3 836.1 L1469.3 867.3 L1470.4 895.6 L1475.3 985.9 L1478.3 1086.1 L1480.3 1236.2 L1481.8 1369.3 L1484.8 1516.5 L1487.8 1836.7 L1490.8 1516.9 L1493.8 1370.0 L1495.3 1237.1 L1496.8 1137.2 L1498.8 1037.4 L1501.8 957.5 L1506.8 887.9 L1512.8 838.2 L1520.8 798.7 L1528.8 764.2 L1536.7 737.7 L1545.0 757.7 L1547.1 778.4 L1551.3 805.5 L1555.4 824.1 L1563.7 830.4 L1569.9 847.1 L1574.1 872.0 L1577.2 900.2 L1579.8 960.3 L1581.8 1020.3 L1583.6 1090.3 L1585.3 1159.4 L1587.1 1228.7 L1587.9 1297.8 L1588.8 1373.8 L1590.8 1520.4 L1594.8 1840.4 L1598.8 1520.5 L1601.8 1373.5 L1603.3 1320.5 L1605.3 1240.6 L1607.8 1160.6 L1610.8 1090.6 L1614.4 1029.6 L1616.5 1008.8 L1620.6 988.1 L1624.8 957.1 L1627.9 926.0 L1628.9 905.2 L1631.0 884.5 L1635.1 863.9 L1646.3 847.2 L1658.1 882.5 L1673.6 867.6 L1676.6 883.9 L1680.8 909.3 L1687.0 943.2 L1693.2 972.9 L1697.3 1004.5 L1701.5 1036.2 L1704.8 1062.6 L1707.3 1097.9 L1708.3 1167.1 L1709.3 1236.4 L1710.6 1305.7 L1711.5 1381.8 L1714.3 1458.7 L1716.8 1526.0 L1720.8 1649.4 L1723.3 1849.6 L1725.8 1649.8 L1728.8 1528.1 L1730.8 1460.2 L1734.0 1383.9 L1735.7 1342.7 L1736.6 1290.8 L1738.3 1239.2 L1740.9 1187.5 L1743.0 1133.5 L1749.2 1103.0 L1753.3 1072.2 L1759.6 1041.7 L1763.7 1010.8 L1769.9 980.3 L1776.2 965.3 L1792.7 1000.6 L1809.3 972.6 L1817.6 994.1 L1821.8 1025.6 L1825.9 1057.1 L1831.8 1064.5 L1840.8 1074.4 L1844.6 1094.3 L1848.8 1125.2 L1853.8 1179.7 L1859.8 1232.3 L1864.8 1284.6 L1870.8 1337.1 L1874.5 1396.2 L1881.4 1461.5 L1883.2 1540.6 L1885.8 1663.9 L1893.1 1864.6 L1899.8 1665.4 L1902.2 1542.6 L1904.3 1462.9 L1911.7 1400.2 L1914.3 1359.1 L1919.5 1335.5 L1929.8 1317.8 L1935.0 1292.4 L1938.5 1241.0 L1947.1 1210.9 L1962.7 1232.3 L1979.1 1183.9 L1998.1 1234.8 L2011.9 1213.1 L2019.7 1246.6 L2022.3 1272.7 L2031.8 1285.5 L2045.6 1271.1 L2052.5 1302.5 L2057.7 1338.7 L2061.2 1362.3 L2068.1 1366.1 L2080.2 1366.2 L2083.7 1389.7 L2088.8 1424.0 L2095.8 1463.7 L2113.8 1533.8 L2125.8 1571.4 L2134.8 1614.9 L2141.8 1655.2" stroke="#2a4aa6" stroke-width="10.5" stroke-dasharray="8.9 8.8"/>
<path d="M255.0 1616.0 L262.0 1576.0 L271.0 1533.0 L283.0 1496.0 L301.0 1427.0 L308.0 1389.4 L313.1 1356.6 L316.6 1334.1 L328.7 1337.6 L335.6 1335.9 L339.1 1313.4 L344.3 1278.8 L351.2 1249.5 L365.0 1265.0 L374.5 1252.9 L377.1 1227.0 L384.9 1194.1 L398.7 1218.3 L417.7 1170.8 L434.1 1218.3 L449.7 1195.9 L458.3 1227.0 L461.8 1278.8 L467.0 1304.8 L477.3 1323.8 L482.5 1348.0 L485.1 1389.4 L492.5 1453.0 L494.6 1533.0 L497.0 1656.0 L503.7 1856.0 L511.0 1656.0 L513.6 1533.0 L515.4 1454.0 L522.3 1389.4 L526.0 1330.7 L532.0 1278.8 L537.0 1227.0 L543.0 1175.0 L548.0 1121.0 L552.2 1090.5 L556.0 1071.0 L565.0 1062.0 L570.9 1055.2 L575.0 1024.1 L579.2 993.0 L587.5 972.3 L604.1 1001.3 L620.6 967.1 L626.9 982.6 L633.1 1013.7 L637.2 1044.9 L643.5 1076.0 L647.6 1107.1 L653.8 1138.2 L655.9 1192.4 L658.5 1244.3 L660.2 1296.1 L661.1 1348.0 L662.8 1389.4 L666.0 1466.0 L668.0 1534.0 L671.0 1656.0 L673.5 1856.0 L676.0 1656.0 L680.0 1533.0 L682.5 1466.0 L685.3 1389.4 L686.2 1313.4 L687.5 1244.3 L688.5 1175.1 L689.5 1106.0 L692.0 1071.0 L695.3 1044.9 L699.5 1013.7 L703.6 982.6 L709.8 953.6 L716.0 920.4 L720.2 895.5 L723.2 879.5 L738.7 896.1 L750.5 862.0 L761.7 879.0 L765.8 899.7 L767.9 920.4 L768.9 941.2 L772.0 972.3 L776.2 1003.4 L780.3 1024.1 L782.4 1044.9 L786.0 1106.0 L789.0 1176.0 L791.5 1256.0 L793.5 1336.0 L795.0 1389.0 L798.0 1536.0 L802.0 1856.0 L806.0 1536.0 L808.0 1389.4 L808.9 1313.4 L809.7 1244.3 L811.5 1175.1 L813.2 1106.0 L815.0 1036.0 L817.0 976.0 L819.6 916.0 L822.7 887.8 L826.9 862.9 L833.1 846.3 L841.4 840.1 L845.5 821.5 L849.7 794.5 L851.8 773.8 L860.1 754.0 L868.0 781.0 L876.0 816.0 L884.0 856.0 L890.0 906.0 L895.0 976.0 L898.0 1056.0 L900.0 1156.0 L901.5 1256.0 L903.0 1389.0 L906.0 1536.0 L909.0 1856.0 L912.0 1536.0 L915.0 1389.0 L916.5 1256.0 L918.5 1106.0 L921.5 1006.0 L926.4 916.0 L927.5 887.8 L928.5 856.7 L930.6 825.6 L932.6 794.5 L935.7 771.7 L938.9 767.5 L945.1 742.6 L949.2 711.5 L953.4 680.4 L960.6 657.6 L967.9 680.4 L974.1 713.6 L980.3 732.3 L985.0 756.0 L990.0 806.0 L995.0 876.0 L999.0 956.0 L1002.0 1056.0 L1004.5 1206.0 L1006.0 1389.0 L1008.5 1536.0 L1011.0 1856.0 L1013.5 1536.0 L1016.0 1389.0 L1017.0 1256.0 L1018.5 1106.0 L1021.0 956.0 L1023.0 815.0 L1025.5 729.0 L1028.3 671.0 L1034.0 628.0 L1043.9 596.0 L1049.1 575.2 L1054.3 540.6 L1063.0 516.4 L1071.6 540.6 L1076.8 575.2 L1081.9 616.0 L1087.0 656.0 L1092.0 696.0 L1096.5 776.0 L1099.5 876.0 L1101.5 1006.0 L1103.0 1156.0 L1104.5 1398.0 L1106.5 1156.0 L1109.0 1006.0 L1112.0 856.0 L1116.0 736.0 L1122.5 616.0 L1124.3 592.5 L1125.1 557.9 L1126.9 523.3 L1128.6 488.8 L1130.3 454.2 L1132.0 428.3 L1134.6 402.4 L1139.0 376.5 L1144.5 346.0 L1147.5 316.0 L1153.2 284.7 L1161.3 238.6 L1168.5 193.0 L1182.5 204.5 L1199.0 147.0 L1214.3 204.5 L1228.3 193.0 L1235.5 238.6 L1243.6 284.7 L1249.3 316.0 L1252.3 346.0 L1257.8 376.5 L1262.2 402.4 L1264.8 428.3 L1266.5 454.2 L1268.2 488.8 L1269.9 523.3 L1271.7 557.9 L1272.5 592.5 L1274.3 616.0 L1280.8 736.0 L1284.8 856.0 L1287.8 1006.0 L1290.3 1156.0 L1292.3 1398.0 L1293.8 1156.0 L1295.3 1006.0 L1297.3 876.0 L1300.3 776.0 L1304.8 696.0 L1309.8 656.0 L1314.9 616.0 L1320.0 575.2 L1325.2 540.6 L1333.8 516.4 L1342.5 540.6 L1347.7 575.2 L1352.9 596.0 L1362.8 628.0 L1368.5 671.0 L1371.3 729.0 L1373.8 815.0 L1375.8 956.0 L1378.3 1106.0 L1379.8 1256.0 L1380.8 1389.0 L1383.3 1536.0 L1385.8 1856.0 L1388.3 1536.0 L1390.8 1389.0 L1392.3 1206.0 L1394.8 1056.0 L1397.8 956.0 L1401.8 876.0 L1406.8 806.0 L1411.8 756.0 L1416.5 732.3 L1422.7 713.6 L1428.9 680.4 L1436.2 657.6 L1443.4 680.4 L1447.6 711.5 L1451.7 742.6 L1457.9 767.5 L1461.1 771.7 L1464.2 794.5 L1466.2 825.6 L1468.3 856.7 L1469.3 887.8 L1470.4 916.0 L1475.3 1006.0 L1478.3 1106.0 L1480.3 1256.0 L1481.8 1389.0 L1484.8 1536.0 L1487.8 1856.0 L1490.8 1536.0 L1493.8 1389.0 L1495.3 1256.0 L1496.8 1156.0 L1498.8 1056.0 L1501.8 976.0 L1506.8 906.0 L1512.8 856.0 L1520.8 816.0 L1528.8 781.0 L1536.7 754.0 L1545.0 773.8 L1547.1 794.5 L1551.3 821.5 L1555.4 840.1 L1563.7 846.3 L1569.9 862.9 L1574.1 887.8 L1577.2 916.0 L1579.8 976.0 L1581.8 1036.0 L1583.6 1106.0 L1585.3 1175.1 L1587.1 1244.3 L1587.9 1313.4 L1588.8 1389.4 L1590.8 1536.0 L1594.8 1856.0 L1598.8 1536.0 L1601.8 1389.0 L1603.3 1336.0 L1605.3 1256.0 L1607.8 1176.0 L1610.8 1106.0 L1614.4 1044.9 L1616.5 1024.1 L1620.6 1003.4 L1624.8 972.3 L1627.9 941.2 L1628.9 920.4 L1631.0 899.7 L1635.1 879.0 L1646.3 862.0 L1658.1 896.1 L1673.6 879.5 L1676.6 895.5 L1680.8 920.4 L1687.0 953.6 L1693.2 982.6 L1697.3 1013.7 L1701.5 1044.9 L1704.8 1071.0 L1707.3 1106.0 L1708.3 1175.1 L1709.3 1244.3 L1710.6 1313.4 L1711.5 1389.4 L1714.3 1466.0 L1716.8 1533.0 L1720.8 1656.0 L1723.3 1856.0 L1725.8 1656.0 L1728.8 1534.0 L1730.8 1466.0 L1734.0 1389.4 L1735.7 1348.0 L1736.6 1296.1 L1738.3 1244.3 L1740.9 1192.4 L1743.0 1138.2 L1749.2 1107.1 L1753.3 1076.0 L1759.6 1044.9 L1763.7 1013.7 L1769.9 982.6 L1776.2 967.1 L1792.7 1001.3 L1809.3 972.3 L1817.6 993.0 L1821.8 1024.1 L1825.9 1055.2 L1831.8 1062.0 L1840.8 1071.0 L1844.6 1090.5 L1848.8 1121.0 L1853.8 1175.0 L1859.8 1227.0 L1864.8 1278.8 L1870.8 1330.7 L1874.5 1389.4 L1881.4 1454.0 L1883.2 1533.0 L1885.8 1656.0 L1893.1 1856.0 L1899.8 1656.0 L1902.2 1533.0 L1904.3 1453.0 L1911.7 1389.4 L1914.3 1348.0 L1919.5 1323.8 L1929.8 1304.8 L1935.0 1278.8 L1938.5 1227.0 L1947.1 1195.9 L1962.7 1218.3 L1979.1 1170.8 L1998.1 1218.3 L2011.9 1194.1 L2019.7 1227.0 L2022.3 1252.9 L2031.8 1265.0 L2045.6 1249.5 L2052.5 1278.8 L2057.7 1313.4 L2061.2 1335.9 L2068.1 1337.6 L2080.2 1334.1 L2083.7 1356.6 L2088.8 1389.4 L2095.8 1427.0 L2113.8 1496.0 L2125.8 1533.0 L2134.8 1576.0 L2141.8 1616.0" stroke="#8a8a8a" stroke-width="9.8" stroke-dasharray="8.9 8.8"/>
<path d="M236.0 1462.0 C236.5 1458.3 237.4 1452.3 238.8 1440.0 C240.2 1427.7 242.5 1403.8 244.7 1388.0 C246.9 1372.2 249.3 1358.8 252.0 1345.0 C254.7 1331.2 258.3 1316.7 261.0 1305.0 C263.7 1293.3 265.7 1283.6 268.0 1275.0 C270.3 1266.4 271.6 1262.7 274.8 1253.6 C278.0 1244.5 282.4 1231.5 287.2 1220.4 C292.0 1209.3 297.8 1197.6 303.8 1187.2 C309.9 1176.8 316.2 1167.2 323.5 1158.2 C330.8 1149.2 341.2 1139.3 347.4 1133.3 C353.6 1127.2 355.8 1124.8 360.8 1121.9 C365.8 1119.0 371.3 1117.1 377.4 1115.7 C383.4 1114.3 391.2 1113.1 397.1 1113.6 C403.0 1114.1 407.9 1116.4 412.7 1118.8 C417.5 1121.2 421.9 1124.3 426.2 1128.1 C430.5 1131.9 434.5 1136.9 438.6 1141.6 C442.7 1146.3 447.4 1151.1 451.0 1156.1 C454.6 1161.1 457.6 1166.7 460.4 1171.7 C463.2 1176.7 464.8 1181.2 467.6 1186.2 C470.4 1191.2 474.4 1196.4 477.0 1201.8 C479.6 1207.2 480.8 1212.9 483.2 1218.4 C485.6 1223.9 488.9 1229.7 491.5 1234.9 C494.1 1240.1 496.4 1244.3 498.7 1249.5 C500.9 1254.7 501.9 1260.8 505.0 1266.0 C508.1 1271.2 514.1 1277.8 517.4 1280.6 C520.7 1283.4 522.6 1283.0 525.0 1283.0 C527.4 1283.0 528.8 1283.1 532.0 1280.6 C535.2 1278.1 540.6 1272.8 544.4 1268.0 C548.2 1263.2 551.6 1256.7 554.7 1251.5 C557.8 1246.3 559.9 1241.8 563.0 1237.0 C566.1 1232.2 569.7 1227.1 573.4 1222.5 C577.1 1217.9 580.6 1212.6 585.4 1209.6 C590.2 1206.6 597.2 1202.7 602.0 1204.4 C606.8 1206.1 611.1 1214.6 614.4 1220.0 C617.7 1225.4 619.3 1231.1 621.7 1236.6 C624.1 1242.1 626.8 1247.6 628.9 1253.1 C631.0 1258.6 632.2 1264.5 634.1 1269.7 C636.0 1275.0 638.4 1279.2 640.4 1284.6 C642.4 1289.9 644.4 1298.1 646.4 1301.8 C648.4 1305.5 651.5 1306.1 652.5 1307.0 C653.1 1303.3 654.6 1293.2 655.9 1284.6 C657.2 1276.0 658.9 1265.1 660.2 1255.2 C661.6 1245.3 662.7 1235.0 664.0 1225.0 C665.3 1215.0 666.6 1204.8 668.0 1195.0 C669.4 1185.2 671.4 1173.9 672.5 1166.0 C673.6 1158.1 673.9 1153.3 674.6 1147.4 C675.3 1141.5 675.6 1136.7 676.6 1130.8 C677.6 1124.9 679.4 1118.3 680.8 1112.1 C682.2 1105.9 683.9 1099.4 684.9 1093.5 C685.9 1087.6 685.8 1085.1 687.0 1076.9 C688.2 1068.7 690.6 1052.5 692.1 1044.3 C693.6 1036.1 694.5 1033.6 696.2 1027.7 C697.9 1021.8 700.7 1015.2 702.4 1009.0 C704.1 1002.8 704.9 996.2 706.6 990.3 C708.3 984.4 710.7 978.9 712.8 973.7 C714.9 968.5 715.9 963.5 719.0 959.2 C722.1 954.9 726.6 947.1 731.5 947.8 C736.4 948.5 744.6 958.0 748.1 963.4 C751.6 968.8 750.5 974.5 752.2 980.0 C753.9 985.5 756.9 990.7 758.4 996.6 C759.9 1002.5 760.8 1009.3 761.5 1015.2 C762.2 1021.1 761.9 1025.9 762.6 1031.8 C763.3 1037.7 764.5 1039.1 765.7 1050.5 C766.9 1061.9 768.6 1081.8 770.0 1100.0 C771.4 1118.2 772.7 1138.3 774.0 1160.0 C775.3 1181.7 776.7 1206.7 778.0 1230.0 C779.3 1253.3 780.8 1278.3 782.0 1300.0 C783.2 1321.7 784.1 1342.5 785.0 1360.0 C785.9 1377.5 786.9 1397.5 787.3 1405.0 C787.8 1395.8 789.0 1370.8 790.0 1350.0 C791.0 1329.2 792.0 1305.0 793.0 1280.0 C794.0 1255.0 795.0 1225.0 796.0 1200.0 C797.0 1175.0 797.8 1154.6 799.0 1130.0 C800.2 1105.4 802.1 1068.6 803.0 1052.6 C803.9 1036.6 803.8 1040.1 804.1 1033.9 C804.5 1027.7 804.8 1021.1 805.1 1015.2 C805.4 1009.3 805.6 1004.5 806.1 998.6 C806.6 992.7 807.5 986.2 808.2 980.0 C808.9 973.8 809.4 967.2 810.3 961.3 C811.2 955.4 812.7 950.6 813.4 944.7 C814.1 938.8 813.9 931.9 814.4 926.0 C814.9 920.1 815.8 915.4 816.5 909.5 C817.2 903.6 817.6 896.7 818.6 890.8 C819.6 884.9 821.7 880.1 822.7 874.2 C823.7 868.3 823.9 861.5 824.8 855.5 C825.7 849.5 826.2 843.8 827.9 837.9 C829.6 832.0 832.6 826.0 835.2 820.3 C837.8 814.6 840.0 808.6 843.5 803.7 C847.0 798.9 851.8 790.2 855.9 791.2 C860.0 792.2 865.2 803.7 868.3 809.9 C871.4 816.1 873.0 822.4 874.6 828.6 C876.2 834.8 876.7 841.3 877.7 847.2 C878.7 853.1 879.9 857.9 880.8 863.8 C881.7 869.7 882.2 876.6 882.9 882.5 C883.6 888.4 884.4 893.2 884.9 899.1 C885.4 905.0 885.6 911.9 886.0 917.8 C886.4 923.7 886.7 928.4 887.0 934.3 C887.3 940.2 887.6 947.1 888.0 953.0 C888.4 958.9 888.8 963.7 889.1 969.6 C889.5 975.5 889.9 982.4 890.1 988.3 C890.3 994.2 889.9 999.0 890.1 1004.9 C890.3 1010.8 890.9 1017.3 891.2 1023.5 C891.6 1029.7 892.0 1036.1 892.2 1042.2 C892.4 1048.3 891.7 1047.0 892.2 1060.0 C892.7 1073.0 894.0 1100.0 895.0 1120.0 C896.0 1140.0 897.0 1160.0 898.0 1180.0 C899.0 1200.0 900.2 1225.2 901.0 1240.0 C901.8 1254.8 902.7 1264.2 903.0 1269.0 C903.3 1262.5 904.3 1246.5 905.0 1230.0 C905.7 1213.5 906.3 1190.0 907.0 1170.0 C907.7 1150.0 908.2 1128.3 909.0 1110.0 C909.8 1091.7 911.4 1072.0 911.9 1060.0 C912.4 1048.0 911.7 1044.8 911.9 1038.0 C912.1 1031.2 912.7 1025.3 912.9 1019.4 C913.1 1013.5 912.9 1008.7 912.9 1002.8 C912.9 996.9 912.7 990.0 912.9 984.1 C913.1 978.2 913.6 973.4 914.0 967.5 C914.4 961.6 914.8 954.8 915.0 948.9 C915.2 943.0 914.8 938.2 915.0 932.3 C915.2 926.4 915.6 919.5 916.0 913.6 C916.4 907.7 916.8 902.9 917.1 897.0 C917.5 891.1 917.8 884.2 918.1 878.3 C918.5 872.4 918.9 867.7 919.2 861.8 C919.6 855.9 919.9 849.0 920.2 843.1 C920.5 837.2 920.7 832.4 921.2 826.5 C921.7 820.6 922.6 813.7 923.3 807.8 C924.0 801.9 924.7 796.7 925.4 791.2 C926.1 785.7 927.0 780.6 927.5 774.7 C928.0 768.8 927.8 761.9 928.5 756.0 C929.2 750.1 930.6 745.3 931.6 739.4 C932.6 733.5 933.5 726.6 934.7 720.7 C935.9 714.8 937.2 710.1 938.9 704.1 C940.6 698.1 942.8 691.0 945.0 685.0 C947.2 679.0 949.3 672.7 952.0 668.0 C954.7 663.3 958.0 657.0 961.0 657.0 C964.0 657.0 967.3 663.3 970.0 668.0 C972.7 672.7 974.6 679.0 977.0 685.0 C979.4 691.0 982.6 698.1 984.5 704.1 C986.4 710.1 987.6 714.8 988.6 720.7 C989.6 726.6 990.0 733.5 990.7 739.4 C991.4 745.3 992.3 750.1 992.8 756.0 C993.3 761.9 993.5 768.8 993.8 774.7 C994.1 780.6 994.4 785.7 994.8 791.2 C995.1 796.7 995.5 801.9 995.9 807.8 C996.2 813.7 996.5 820.6 996.9 826.5 C997.2 832.4 997.6 837.2 998.0 843.1 C998.4 849.0 998.8 855.9 999.0 861.8 C999.2 867.7 998.8 872.4 999.0 878.3 C999.2 884.2 999.6 891.1 1000.0 897.0 C1000.4 902.9 1000.9 907.7 1001.1 913.6 C1001.3 919.5 1000.9 926.4 1001.1 932.3 C1001.3 938.2 1001.9 943.0 1002.1 948.9 C1002.3 954.8 1001.9 961.6 1002.1 967.5 C1002.3 973.4 1002.9 978.2 1003.1 984.1 C1003.3 990.0 1002.9 996.9 1003.1 1002.8 C1003.3 1008.7 1004.0 1013.5 1004.2 1019.4 C1004.4 1025.3 1004.2 1031.2 1004.2 1038.0 C1004.2 1044.8 1003.9 1046.3 1004.2 1060.0 C1004.5 1073.7 1005.4 1100.3 1006.0 1120.0 C1006.6 1139.7 1007.7 1168.3 1008.0 1178.0 C1008.3 1168.3 1009.3 1139.7 1010.0 1120.0 C1010.7 1100.3 1011.3 1083.3 1012.0 1060.0 C1012.7 1036.7 1013.3 1006.7 1014.0 980.0 C1014.7 953.3 1015.4 926.7 1016.0 900.0 C1016.6 873.3 1017.0 845.0 1017.5 820.0 C1018.0 795.0 1018.4 764.9 1018.9 750.3 C1019.4 735.6 1020.2 738.1 1020.6 732.1 C1021.0 726.1 1021.2 719.9 1021.5 714.0 C1021.8 708.1 1021.7 702.6 1022.3 696.7 C1022.9 690.8 1024.2 684.7 1024.9 678.6 C1025.6 672.5 1026.3 666.3 1026.7 660.4 C1027.1 654.5 1026.8 649.1 1027.5 643.2 C1028.2 637.3 1030.3 630.9 1031.0 625.0 C1031.7 619.1 1031.2 613.6 1031.8 607.7 C1032.4 601.8 1033.7 595.5 1034.4 589.6 C1035.1 583.7 1035.2 578.2 1036.2 572.3 C1037.2 566.4 1039.1 560.2 1040.5 554.2 C1041.9 548.2 1043.5 541.9 1044.8 536.0 C1046.1 530.1 1046.9 524.5 1048.3 518.7 C1049.7 513.0 1051.0 505.8 1053.4 501.5 C1055.9 497.2 1059.7 491.4 1063.0 492.8 C1066.3 494.2 1070.4 504.3 1073.3 510.1 C1076.2 515.9 1078.8 521.5 1080.2 527.4 C1081.6 533.3 1081.2 539.5 1081.9 545.5 C1082.6 551.5 1083.8 557.8 1084.5 563.7 C1085.2 569.6 1085.6 575.1 1086.3 581.0 C1087.0 586.9 1088.3 593.2 1088.9 599.1 C1089.5 605.0 1089.3 610.5 1089.7 616.4 C1090.1 622.3 1091.0 628.6 1091.4 634.5 C1091.8 640.4 1092.0 645.9 1092.3 651.8 C1092.6 657.7 1092.9 664.0 1093.2 669.9 C1093.5 675.8 1093.7 681.3 1094.0 687.2 C1094.3 693.1 1094.8 699.5 1094.9 705.4 C1095.1 711.3 1094.9 716.7 1094.9 722.6 C1094.9 728.5 1094.9 734.6 1094.9 740.8 C1094.9 747.0 1094.6 741.8 1094.9 760.0 C1095.2 778.2 1096.2 820.0 1097.0 850.0 C1097.8 880.0 1098.8 917.5 1099.5 940.0 C1100.2 962.5 1101.2 977.5 1101.5 985.0 C1101.9 970.8 1103.2 930.8 1104.0 900.0 C1104.8 869.2 1105.7 825.0 1106.5 800.0 C1107.3 775.0 1108.2 761.6 1108.7 750.3 C1109.2 739.0 1109.3 738.1 1109.6 732.1 C1109.9 726.1 1110.2 719.9 1110.5 714.0 C1110.8 708.1 1111.0 702.6 1111.3 696.7 C1111.6 690.8 1111.9 684.7 1112.2 678.6 C1112.5 672.5 1112.7 666.3 1113.0 660.4 C1113.3 654.5 1113.6 649.1 1113.9 643.2 C1114.2 637.3 1114.5 631.0 1114.8 625.0 C1115.1 619.0 1115.3 612.8 1115.6 606.9 C1115.9 601.0 1116.2 595.5 1116.5 589.6 C1116.8 583.7 1117.1 577.5 1117.4 571.4 C1117.7 565.3 1117.9 559.2 1118.2 553.3 C1118.5 547.4 1118.8 541.9 1119.1 536.0 C1119.4 530.1 1119.7 523.9 1120.0 517.9 C1120.3 511.8 1120.5 505.6 1120.8 499.7 C1121.1 493.8 1121.5 488.2 1121.7 482.5 C1122.0 476.8 1122.1 470.7 1122.3 465.2 C1122.5 459.7 1122.6 455.1 1122.8 449.4 C1123.0 443.7 1123.2 437.1 1123.5 431.0 C1123.8 424.9 1124.2 418.4 1124.6 412.5 C1125.0 406.6 1125.2 401.1 1125.8 395.3 C1126.3 389.6 1127.4 383.8 1127.9 378.0 C1128.4 372.2 1128.4 366.5 1129.0 360.7 C1129.6 354.9 1130.7 349.2 1131.3 343.4 C1131.9 337.6 1131.7 331.9 1132.5 326.1 C1133.3 320.3 1135.1 314.4 1135.9 308.8 C1136.7 303.2 1136.5 298.3 1137.1 292.7 C1137.7 287.1 1138.2 281.1 1139.4 275.4 C1140.6 269.6 1143.0 264.1 1144.0 258.2 C1145.0 252.2 1144.2 245.5 1145.2 239.7 C1146.2 233.9 1148.3 229.3 1149.8 223.6 C1151.3 217.8 1152.9 211.3 1154.4 205.2 C1155.9 199.0 1157.7 192.8 1159.0 186.7 C1160.3 180.5 1161.1 174.1 1162.4 168.3 C1163.8 162.6 1165.0 157.6 1167.1 152.2 C1169.2 146.8 1172.2 141.2 1175.1 136.0 C1178.0 130.8 1180.3 124.8 1184.3 121.1 C1188.3 117.4 1194.3 114.0 1199.0 114.0 C1203.7 114.0 1208.7 117.4 1212.5 121.1 C1216.3 124.8 1218.8 130.8 1221.7 136.0 C1224.6 141.2 1227.6 146.8 1229.7 152.2 C1231.8 157.6 1233.1 162.6 1234.4 168.3 C1235.8 174.1 1236.5 180.5 1237.8 186.7 C1239.1 192.8 1240.9 199.0 1242.4 205.2 C1243.9 211.3 1245.5 217.8 1247.0 223.6 C1248.5 229.3 1250.6 233.9 1251.6 239.7 C1252.6 245.5 1251.8 252.2 1252.8 258.2 C1253.8 264.1 1256.2 269.6 1257.4 275.4 C1258.6 281.1 1259.1 287.1 1259.7 292.7 C1260.3 298.3 1260.1 303.2 1260.9 308.8 C1261.7 314.4 1263.5 320.3 1264.3 326.1 C1265.1 331.9 1264.9 337.6 1265.5 343.4 C1266.1 349.2 1267.2 354.9 1267.8 360.7 C1268.4 366.5 1268.4 372.2 1268.9 378.0 C1269.4 383.8 1270.5 389.6 1271.0 395.3 C1271.6 401.1 1271.8 406.6 1272.2 412.5 C1272.6 418.4 1273.0 424.9 1273.3 431.0 C1273.6 437.1 1273.8 443.7 1274.0 449.4 C1274.2 455.1 1274.3 459.7 1274.5 465.2 C1274.7 470.7 1274.9 476.8 1275.1 482.5 C1275.4 488.2 1275.7 493.8 1276.0 499.7 C1276.3 505.6 1276.5 511.8 1276.8 517.9 C1277.1 523.9 1277.4 530.1 1277.7 536.0 C1278.0 541.9 1278.3 547.4 1278.6 553.3 C1278.9 559.2 1279.1 565.3 1279.4 571.4 C1279.7 577.5 1280.0 583.7 1280.3 589.6 C1280.6 595.5 1280.9 601.0 1281.2 606.9 C1281.5 612.8 1281.7 619.0 1282.0 625.0 C1282.3 631.0 1282.6 637.3 1282.9 643.2 C1283.2 649.1 1283.5 654.5 1283.8 660.4 C1284.1 666.3 1284.3 672.5 1284.6 678.6 C1284.9 684.7 1285.2 690.8 1285.5 696.7 C1285.8 702.6 1286.0 708.1 1286.3 714.0 C1286.6 719.9 1286.9 726.1 1287.2 732.1 C1287.5 738.1 1287.6 739.0 1288.1 750.3 C1288.6 761.6 1289.5 775.0 1290.3 800.0 C1291.1 825.0 1292.0 869.2 1292.8 900.0 C1293.6 930.8 1294.9 970.8 1295.3 985.0 C1295.6 977.5 1296.6 962.5 1297.3 940.0 C1298.1 917.5 1299.0 880.0 1299.8 850.0 C1300.6 820.0 1301.6 778.2 1301.9 760.0 C1302.2 741.8 1301.9 747.0 1301.9 740.8 C1301.9 734.6 1301.9 728.5 1301.9 722.6 C1301.9 716.7 1301.8 711.3 1301.9 705.4 C1302.1 699.5 1302.5 693.1 1302.8 687.2 C1303.1 681.3 1303.3 675.8 1303.6 669.9 C1303.9 664.0 1304.2 657.7 1304.5 651.8 C1304.8 645.9 1305.0 640.4 1305.4 634.5 C1305.8 628.6 1306.7 622.3 1307.1 616.4 C1307.5 610.5 1307.3 605.0 1307.9 599.1 C1308.5 593.2 1309.8 586.9 1310.5 581.0 C1311.2 575.1 1311.6 569.6 1312.3 563.7 C1313.0 557.8 1314.2 551.5 1314.9 545.5 C1315.6 539.5 1315.2 533.3 1316.6 527.4 C1318.0 521.5 1320.6 515.9 1323.5 510.1 C1326.4 504.3 1330.5 494.2 1333.8 492.8 C1337.1 491.4 1341.0 497.2 1343.4 501.5 C1345.9 505.8 1347.1 513.0 1348.5 518.7 C1349.9 524.5 1350.7 530.1 1352.0 536.0 C1353.3 541.9 1354.9 548.2 1356.3 554.2 C1357.7 560.2 1359.6 566.4 1360.6 572.3 C1361.6 578.2 1361.7 583.7 1362.4 589.6 C1363.1 595.5 1364.4 601.8 1365.0 607.7 C1365.6 613.6 1365.1 619.1 1365.8 625.0 C1366.5 630.9 1368.6 637.3 1369.3 643.2 C1370.0 649.1 1369.7 654.5 1370.1 660.4 C1370.5 666.3 1371.2 672.5 1371.9 678.6 C1372.6 684.7 1373.9 690.8 1374.5 696.7 C1375.1 702.6 1375.0 708.1 1375.3 714.0 C1375.6 719.9 1375.8 726.1 1376.2 732.1 C1376.6 738.1 1377.4 735.6 1377.9 750.3 C1378.4 764.9 1378.8 795.0 1379.3 820.0 C1379.8 845.0 1380.2 873.3 1380.8 900.0 C1381.4 926.7 1382.1 953.3 1382.8 980.0 C1383.5 1006.7 1384.1 1036.7 1384.8 1060.0 C1385.5 1083.3 1386.1 1100.3 1386.8 1120.0 C1387.5 1139.7 1388.5 1168.3 1388.8 1178.0 C1389.1 1168.3 1390.2 1139.7 1390.8 1120.0 C1391.4 1100.3 1392.3 1073.7 1392.6 1060.0 C1392.9 1046.3 1392.6 1044.8 1392.6 1038.0 C1392.6 1031.2 1392.4 1025.3 1392.6 1019.4 C1392.8 1013.5 1393.5 1008.7 1393.7 1002.8 C1393.9 996.9 1393.5 990.0 1393.7 984.1 C1393.9 978.2 1394.5 973.4 1394.7 967.5 C1394.9 961.6 1394.5 954.8 1394.7 948.9 C1394.9 943.0 1395.5 938.2 1395.7 932.3 C1395.9 926.4 1395.5 919.5 1395.7 913.6 C1395.9 907.7 1396.5 902.9 1396.8 897.0 C1397.2 891.1 1397.6 884.2 1397.8 878.3 C1398.0 872.4 1397.6 867.7 1397.8 861.8 C1398.0 855.9 1398.5 849.0 1398.8 843.1 C1399.2 837.2 1399.6 832.4 1399.9 826.5 C1400.2 820.6 1400.6 813.7 1400.9 807.8 C1401.2 801.9 1401.7 796.7 1402.0 791.2 C1402.4 785.7 1402.7 780.6 1403.0 774.7 C1403.3 768.8 1403.5 761.9 1404.0 756.0 C1404.5 750.1 1405.4 745.3 1406.1 739.4 C1406.8 733.5 1407.2 726.6 1408.2 720.7 C1409.2 714.8 1410.4 710.1 1412.3 704.1 C1414.2 698.1 1417.4 691.0 1419.8 685.0 C1422.2 679.0 1424.1 672.7 1426.8 668.0 C1429.5 663.3 1432.8 657.0 1435.8 657.0 C1438.8 657.0 1442.1 663.3 1444.8 668.0 C1447.5 672.7 1449.6 679.0 1451.8 685.0 C1454.0 691.0 1456.2 698.1 1457.9 704.1 C1459.6 710.1 1460.9 714.8 1462.1 720.7 C1463.3 726.6 1464.2 733.5 1465.2 739.4 C1466.2 745.3 1467.6 750.1 1468.3 756.0 C1469.0 761.9 1468.8 768.8 1469.3 774.7 C1469.8 780.6 1470.7 785.7 1471.4 791.2 C1472.1 796.7 1472.8 801.9 1473.5 807.8 C1474.2 813.7 1475.1 820.6 1475.6 826.5 C1476.1 832.4 1476.3 837.2 1476.6 843.1 C1476.9 849.0 1477.2 855.9 1477.6 861.8 C1478.0 867.7 1478.4 872.4 1478.7 878.3 C1479.1 884.2 1479.4 891.1 1479.7 897.0 C1480.1 902.9 1480.5 907.7 1480.8 913.6 C1481.2 919.5 1481.6 926.4 1481.8 932.3 C1482.0 938.2 1481.6 943.0 1481.8 948.9 C1482.0 954.8 1482.5 961.6 1482.8 967.5 C1483.2 973.4 1483.7 978.2 1483.9 984.1 C1484.1 990.0 1483.9 996.9 1483.9 1002.8 C1483.9 1008.7 1483.7 1013.5 1483.9 1019.4 C1484.1 1025.3 1484.7 1031.2 1484.9 1038.0 C1485.1 1044.8 1484.4 1048.0 1484.9 1060.0 C1485.4 1072.0 1487.0 1091.7 1487.8 1110.0 C1488.6 1128.3 1489.1 1150.0 1489.8 1170.0 C1490.5 1190.0 1491.1 1213.5 1491.8 1230.0 C1492.5 1246.5 1493.5 1262.5 1493.8 1269.0 C1494.1 1264.2 1495.0 1254.8 1495.8 1240.0 C1496.6 1225.2 1497.8 1200.0 1498.8 1180.0 C1499.8 1160.0 1500.8 1140.0 1501.8 1120.0 C1502.8 1100.0 1504.1 1073.0 1504.6 1060.0 C1505.1 1047.0 1504.4 1048.3 1504.6 1042.2 C1504.8 1036.1 1505.2 1029.7 1505.6 1023.5 C1506.0 1017.3 1506.5 1010.8 1506.7 1004.9 C1506.9 999.0 1506.5 994.2 1506.7 988.3 C1506.9 982.4 1507.4 975.5 1507.7 969.6 C1508.1 963.7 1508.5 958.9 1508.8 953.0 C1509.2 947.1 1509.5 940.2 1509.8 934.3 C1510.1 928.4 1510.5 923.7 1510.8 917.8 C1511.2 911.9 1511.4 905.0 1511.9 899.1 C1512.4 893.2 1513.2 888.4 1513.9 882.5 C1514.6 876.6 1515.1 869.7 1516.0 863.8 C1516.9 857.9 1518.1 853.1 1519.1 847.2 C1520.1 841.3 1520.6 834.8 1522.2 828.6 C1523.8 822.4 1525.4 816.1 1528.5 809.9 C1531.6 803.7 1536.8 792.2 1540.9 791.2 C1545.0 790.2 1549.9 798.9 1553.3 803.7 C1556.8 808.6 1559.0 814.6 1561.6 820.3 C1564.2 826.0 1567.2 832.0 1568.9 837.9 C1570.6 843.8 1571.1 849.5 1572.0 855.5 C1572.9 861.5 1573.1 868.3 1574.1 874.2 C1575.1 880.1 1577.2 884.9 1578.2 890.8 C1579.2 896.7 1579.6 903.6 1580.3 909.5 C1581.0 915.4 1581.9 920.1 1582.4 926.0 C1582.9 931.9 1582.7 938.8 1583.4 944.7 C1584.1 950.6 1585.6 955.4 1586.5 961.3 C1587.4 967.2 1587.9 973.8 1588.6 980.0 C1589.3 986.2 1590.2 992.7 1590.7 998.6 C1591.2 1004.5 1591.4 1009.3 1591.7 1015.2 C1592.0 1021.1 1592.4 1027.7 1592.7 1033.9 C1593.1 1040.1 1593.0 1036.6 1593.8 1052.6 C1594.7 1068.6 1596.6 1105.4 1597.8 1130.0 C1599.0 1154.6 1599.8 1175.0 1600.8 1200.0 C1601.8 1225.0 1602.8 1255.0 1603.8 1280.0 C1604.8 1305.0 1605.9 1329.2 1606.8 1350.0 C1607.8 1370.8 1609.1 1395.8 1609.5 1405.0 C1609.9 1397.5 1610.9 1377.5 1611.8 1360.0 C1612.7 1342.5 1613.6 1321.7 1614.8 1300.0 C1616.0 1278.3 1617.5 1253.3 1618.8 1230.0 C1620.1 1206.7 1621.5 1181.7 1622.8 1160.0 C1624.1 1138.3 1625.4 1118.2 1626.8 1100.0 C1628.2 1081.8 1629.9 1061.9 1631.1 1050.5 C1632.3 1039.1 1633.5 1037.7 1634.2 1031.8 C1634.9 1025.9 1634.6 1021.1 1635.3 1015.2 C1636.0 1009.3 1636.9 1002.5 1638.4 996.6 C1640.0 990.7 1642.9 985.5 1644.6 980.0 C1646.3 974.5 1645.3 968.8 1648.7 963.4 C1652.2 958.0 1660.5 948.5 1665.3 947.8 C1670.2 947.1 1674.7 954.9 1677.8 959.2 C1680.9 963.5 1681.9 968.5 1684.0 973.7 C1686.1 978.9 1688.5 984.4 1690.2 990.3 C1691.9 996.2 1692.7 1002.8 1694.4 1009.0 C1696.1 1015.2 1698.9 1021.8 1700.6 1027.7 C1702.3 1033.6 1703.2 1036.1 1704.7 1044.3 C1706.2 1052.5 1708.6 1068.7 1709.8 1076.9 C1711.0 1085.1 1710.9 1087.6 1711.9 1093.5 C1712.9 1099.4 1714.6 1105.9 1716.0 1112.1 C1717.4 1118.3 1719.2 1124.9 1720.2 1130.8 C1721.2 1136.7 1721.5 1141.5 1722.2 1147.4 C1722.9 1153.3 1723.2 1158.1 1724.3 1166.0 C1725.4 1173.9 1727.4 1185.2 1728.8 1195.0 C1730.2 1204.8 1731.5 1215.0 1732.8 1225.0 C1734.1 1235.0 1735.3 1245.3 1736.6 1255.2 C1738.0 1265.1 1739.6 1276.0 1740.9 1284.6 C1742.2 1293.2 1743.7 1303.3 1744.3 1307.0 C1745.3 1306.1 1748.4 1305.5 1750.4 1301.8 C1752.4 1298.1 1754.4 1289.9 1756.4 1284.6 C1758.5 1279.2 1760.8 1275.0 1762.7 1269.7 C1764.6 1264.5 1765.8 1258.6 1767.9 1253.1 C1770.0 1247.6 1772.7 1242.1 1775.1 1236.6 C1777.5 1231.1 1779.1 1225.4 1782.4 1220.0 C1785.7 1214.6 1790.0 1206.1 1794.8 1204.4 C1799.6 1202.7 1807.4 1209.3 1811.4 1209.6 C1815.5 1209.8 1815.7 1203.8 1819.1 1205.9 C1822.5 1208.1 1828.0 1217.5 1831.6 1222.5 C1835.2 1227.5 1837.3 1231.2 1840.9 1236.0 C1844.5 1240.8 1849.1 1248.0 1853.4 1251.5 C1857.7 1255.0 1861.8 1256.0 1866.8 1256.7 C1871.8 1257.4 1878.9 1258.5 1883.4 1255.7 C1887.9 1252.9 1890.7 1245.1 1893.8 1240.1 C1896.9 1235.1 1899.5 1230.4 1902.1 1225.6 C1904.7 1220.8 1906.6 1216.3 1909.4 1211.1 C1912.2 1205.9 1915.8 1199.9 1918.7 1194.5 C1921.6 1189.1 1924.1 1184.1 1927.0 1178.9 C1929.9 1173.7 1933.4 1168.4 1936.3 1163.4 C1939.2 1158.4 1941.0 1153.7 1944.6 1148.9 C1948.2 1144.1 1953.9 1138.9 1958.1 1134.4 C1962.2 1129.9 1965.0 1125.5 1969.5 1121.9 C1974.0 1118.3 1979.9 1115.0 1985.1 1112.6 C1990.3 1110.2 1994.9 1108.1 2000.6 1107.4 C2006.3 1106.7 2013.6 1106.9 2019.3 1108.4 C2025.0 1110.0 2029.6 1113.9 2034.8 1116.7 C2040.0 1119.5 2045.6 1121.5 2050.4 1125.0 C2055.2 1128.5 2059.9 1133.0 2063.9 1137.5 C2067.9 1142.0 2070.8 1147.3 2074.2 1152.0 C2077.6 1156.7 2081.3 1160.7 2084.6 1165.5 C2087.9 1170.3 2091.0 1175.8 2093.9 1181.0 C2096.8 1186.2 2099.6 1191.4 2102.2 1196.6 C2104.8 1201.8 2107.1 1206.8 2109.5 1212.1 C2111.9 1217.4 2114.4 1223.2 2116.7 1228.7 C2118.9 1234.2 2120.9 1239.6 2123.0 1245.3 C2125.1 1251.0 2127.3 1257.4 2129.2 1262.9 C2131.1 1268.4 2132.5 1273.0 2134.4 1278.5 C2136.3 1284.0 2139.2 1290.2 2140.6 1296.1 C2141.9 1302.0 2141.6 1308.0 2142.5 1313.7 C2143.4 1319.4 2144.8 1324.4 2146.0 1330.3 C2147.2 1336.2 2148.6 1342.4 2150.0 1349.0 C2151.4 1355.6 2153.1 1362.8 2154.6 1370.0 C2156.1 1377.2 2157.8 1385.3 2159.0 1392.0 C2160.2 1398.7 2161.5 1407.0 2162.0 1410.0" stroke="#b05aa6" stroke-width="11.0" stroke-dasharray="8.9 8.8"/>
</g>
<g stroke="#262626" stroke-width="4.3" fill="none"><line x1="332.3" y1="29.5" x2="332.3" y2="49.1"/><line x1="332.3" y1="1536.2" x2="332.3" y2="1516.5"/><line x1="549.4" y1="29.5" x2="549.4" y2="49.1"/><line x1="549.4" y1="1536.2" x2="549.4" y2="1516.5"/><line x1="766.7" y1="29.5" x2="766.7" y2="49.1"/><line x1="766.7" y1="1536.2" x2="766.7" y2="1516.5"/><line x1="983.6" y1="29.5" x2="983.6" y2="49.1"/><line x1="983.6" y1="1536.2" x2="983.6" y2="1516.5"/><line x1="1200.7" y1="29.5" x2="1200.7" y2="49.1"/><line x1="1200.7" y1="1536.2" x2="1200.7" y2="1516.5"/><line x1="1413.4" y1="29.5" x2="1413.4" y2="49.1"/><line x1="1413.4" y1="1536.2" x2="1413.4" y2="1516.5"/><line x1="1630.8" y1="29.5" x2="1630.8" y2="49.1"/><line x1="1630.8" y1="1536.2" x2="1630.8" y2="1516.5"/><line x1="1847.6" y1="29.5" x2="1847.6" y2="49.1"/><line x1="1847.6" y1="1536.2" x2="1847.6" y2="1516.5"/><line x1="2064.9" y1="29.5" x2="2064.9" y2="49.1"/><line x1="2064.9" y1="1536.2" x2="2064.9" y2="1516.5"/><line x1="239.3" y1="167.0" x2="258.9" y2="167.0"/><line x1="2157.8" y1="167.0" x2="2138.2" y2="167.0"/><line x1="239.3" y1="441.8" x2="258.9" y2="441.8"/><line x1="2157.8" y1="441.8" x2="2138.2" y2="441.8"/><line x1="239.3" y1="716.4" x2="258.9" y2="716.4"/><line x1="2157.8" y1="716.4" x2="2138.2" y2="716.4"/><line x1="239.3" y1="990.8" x2="258.9" y2="990.8"/><line x1="2157.8" y1="990.8" x2="2138.2" y2="990.8"/><line x1="239.3" y1="1265.8" x2="258.9" y2="1265.8"/><line x1="2157.8" y1="1265.8" x2="2138.2" y2="1265.8"/><rect x="239.3" y="29.5" width="1918.5" height="1506.7"/></g>
<rect x="1471.0" y="69.5" width="642.4" height="567.1" fill="#fff" stroke="#262626" stroke-width="4.3"/>
<line x1="1513.1" y1="122.6" x2="1695" y2="122.6" stroke="#d9581c" stroke-width="12.4"/>
<text class="t" x="1707.5" y="146.6" font-size="63.9" style="fill:#1a1a1a">GBS (ABS)</text>
<line x1="1513.1" y1="215.9" x2="1695" y2="215.9" stroke="#050505" stroke-width="12.4"/>
<text class="t" x="1707.5" y="239.9" font-size="63.9" style="fill:#1a1a1a">PO (ABS)</text>
<line x1="1513.1" y1="308.4" x2="1695" y2="308.4" stroke="#6db92c" stroke-width="12.4"/>
<text class="t" x="1707.5" y="332.4" font-size="63.9" style="fill:#1a1a1a">FEKO (ABS)</text>
<line x1="1513.1" y1="397.6" x2="1695" y2="397.6" stroke="#2a4aa6" stroke-width="12.4" stroke-dasharray="8.9 8.79"/>
<text class="t" x="1707.5" y="421.6" font-size="63.9" style="fill:#1a1a1a">GBS (FR4)</text>
<line x1="1513.1" y1="490.5" x2="1695" y2="490.5" stroke="#858585" stroke-width="12.4" stroke-dasharray="8.9 8.79"/>
<text class="t" x="1707.5" y="514.5" font-size="63.9" style="fill:#1a1a1a">PO (FR4)</text>
<line x1="1513.1" y1="583.4" x2="1695" y2="583.4" stroke="#b05aa6" stroke-width="12.4" stroke-dasharray="8.9 8.79"/>
<text class="t" x="1707.5" y="607.4" font-size="63.9" style="fill:#1a1a1a">FEKO (FR4)</text>
<text class="t" x="329.3" y="1638.6" font-size="73" text-anchor="middle">-80</text>
<text class="t" x="546.4" y="1638.6" font-size="73" text-anchor="middle">-60</text>
<text class="t" x="763.7" y="1638.6" font-size="73" text-anchor="middle">-40</text>
<text class="t" x="980.6" y="1638.6" font-size="73" text-anchor="middle">-20</text>
<text class="t" x="1200.7" y="1638.6" font-size="73" text-anchor="middle">0</text>
<text class="t" x="1413.4" y="1638.6" font-size="73" text-anchor="middle">20</text>
<text class="t" x="1630.8" y="1638.6" font-size="73" text-anchor="middle">40</text>
<text class="t" x="1844.6" y="1638.6" font-size="73" text-anchor="middle">60</text>
<text class="t" x="2060.9" y="1638.6" font-size="73" text-anchor="middle">80</text>
<text class="t" x="205" y="194.5" font-size="73" text-anchor="end">-10</text>
<text class="t" x="205" y="469.3" font-size="73" text-anchor="end">-20</text>
<text class="t" x="205" y="743.9" font-size="73" text-anchor="end">-30</text>
<text class="t" x="205" y="1018.3" font-size="73" text-anchor="end">-40</text>
<text class="t" x="205" y="1293.3" font-size="73" text-anchor="end">-50</text>
<text class="t" x="205" y="1569.0" font-size="73" text-anchor="end">-60</text>
<text class="s" x="1198" y="1732" font-size="71" letter-spacing="2.6" text-anchor="middle"><tspan font-style="italic">θ</tspan> (deg)</text>
<text class="s" transform="translate(68.5,782) rotate(-90)" font-size="71" letter-spacing="3.4" text-anchor="middle">RCS (dB)</text>
</g>
</svg></body></html>
